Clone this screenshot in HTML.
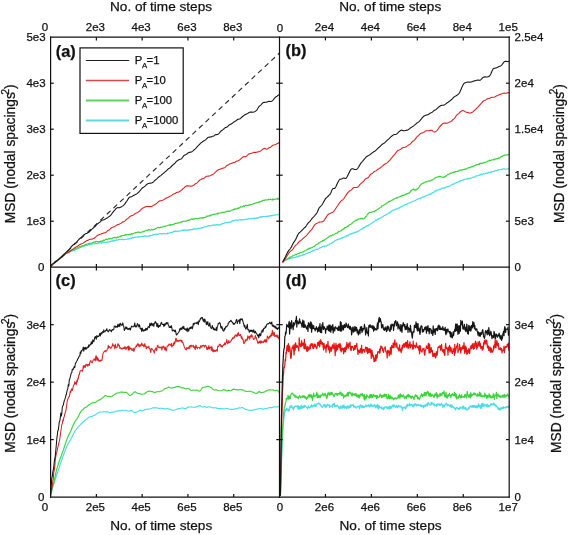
<!DOCTYPE html>
<html><head><meta charset="utf-8"><style>
html,body{margin:0;padding:0;background:#fff;}
#w{position:relative;width:568px;height:535px;overflow:hidden;}
svg{display:block;position:absolute;left:0;top:0;}
#t{will-change:transform;}
text{font-family:"Liberation Sans",sans-serif;fill:#111;stroke:#111;stroke-width:0.25px;}
</style></head><body><div id="w">
<svg width="568" height="535" viewBox="0 0 568 535">
<rect width="568" height="535" fill="#fff"/>
<defs>
<clipPath id="cp"><rect x="50.6" y="37.2" width="458.59999999999997" height="459.90000000000003"/></clipPath>
</defs>
<g clip-path="url(#cp)">
<path d="M51.00,265.78 L51.50,265.16 L52.00,264.81 L52.50,264.21 L53.00,264.04 L53.50,263.93 L54.00,263.07 L54.50,262.63 L55.00,262.49 L55.50,262.05 L56.00,261.57 L56.50,260.89 L57.00,260.71 L57.50,260.44 L58.00,259.49 L58.50,259.26 L59.00,258.49 L59.50,258.17 L60.00,257.63 L60.50,257.62 L61.00,256.99 L61.50,256.99 L62.00,256.58 L62.50,256.11 L63.00,255.16 L63.50,255.31 L64.00,255.09 L64.50,254.79 L65.00,254.03 L65.50,253.96 L66.00,253.52 L66.50,253.27 L67.00,253.44 L67.50,252.67 L68.00,252.60 L68.50,252.55 L69.00,251.93 L69.50,251.80 L70.00,251.65 L70.50,251.44 L71.00,250.93 L71.50,251.09 L72.00,251.23 L72.50,250.33 L73.00,250.77 L73.50,250.40 L74.00,250.02 L74.50,250.47 L75.00,249.94 L75.50,249.22 L76.00,249.31 L76.50,249.23 L77.00,248.83 L77.50,248.85 L78.00,248.46 L78.50,248.46 L79.00,248.47 L79.50,247.76 L80.00,247.79 L80.50,247.43 L81.00,247.39 L81.50,246.85 L82.00,246.81 L82.50,246.70 L83.00,246.78 L83.50,246.65 L84.00,245.85 L84.50,245.80 L85.00,246.00 L85.50,245.18 L86.00,245.42 L86.50,245.35 L87.00,245.55 L87.50,245.28 L88.00,244.88 L88.50,244.74 L89.00,244.64 L89.50,244.95 L90.00,244.36 L90.50,244.28 L91.00,244.34 L91.50,244.13 L92.00,244.02 L92.50,243.71 L93.00,243.92 L93.50,243.75 L94.00,244.09 L94.50,243.89 L95.00,243.67 L95.50,243.79 L96.00,243.49 L96.50,243.80 L97.00,243.48 L97.50,243.58 L98.00,243.08 L98.50,243.41 L99.00,242.84 L99.50,242.66 L100.00,242.99 L100.50,242.73 L101.00,242.89 L101.50,243.28 L102.00,242.40 L102.50,242.37 L103.00,242.53 L103.50,242.56 L104.00,242.37 L104.50,242.35 L105.00,242.58 L105.50,242.54 L106.00,242.13 L106.50,242.32 L107.00,242.29 L107.50,241.91 L108.00,242.13 L108.50,241.74 L109.00,242.08 L109.50,241.78 L110.00,241.67 L110.50,241.41 L111.00,241.44 L111.50,240.88 L112.00,241.00 L112.50,241.28 L113.00,240.55 L113.50,241.17 L114.00,240.37 L114.50,240.84 L115.00,240.29 L115.50,240.54 L116.00,240.23 L116.50,239.67 L117.00,240.25 L117.50,240.19 L118.00,239.71 L118.50,239.59 L119.00,239.57 L119.50,239.30 L120.00,239.79 L120.50,239.37 L121.00,239.47 L121.50,239.28 L122.00,239.32 L122.50,239.16 L123.00,239.78 L123.50,239.43 L124.00,239.70 L124.50,239.46 L125.00,239.26 L125.50,239.33 L126.00,239.22 L126.50,239.30 L127.00,239.13 L127.50,239.06 L128.00,238.71 L128.50,238.76 L129.00,239.26 L129.50,238.57 L130.00,238.35 L130.50,238.59 L131.00,238.76 L131.50,237.91 L132.00,238.09 L132.50,237.86 L133.00,237.44 L133.50,237.90 L134.00,237.57 L134.50,237.48 L135.00,237.16 L135.50,237.35 L136.00,237.01 L136.50,237.03 L137.00,236.74 L137.50,236.67 L138.00,237.26 L138.50,236.77 L139.00,236.91 L139.50,236.77 L140.00,236.62 L140.50,236.53 L141.00,236.72 L141.50,236.40 L142.00,236.37 L142.50,236.31 L143.00,236.52 L143.50,236.34 L144.00,236.23 L144.50,235.97 L145.00,235.75 L145.50,236.32 L146.00,236.35 L146.50,236.09 L147.00,236.25 L147.50,236.31 L148.00,236.29 L148.50,236.25 L149.00,235.81 L149.50,236.17 L150.00,235.34 L150.50,235.69 L151.00,235.44 L151.50,235.37 L152.00,235.47 L152.50,235.24 L153.00,234.48 L153.50,234.28 L154.00,234.85 L154.50,234.34 L155.00,234.57 L155.50,234.76 L156.00,234.09 L156.50,233.92 L157.00,234.46 L157.50,234.36 L158.00,234.21 L158.50,234.19 L159.00,233.88 L159.50,233.66 L160.00,233.93 L160.50,233.67 L161.00,233.46 L161.50,233.98 L162.00,233.83 L162.50,233.94 L163.00,233.60 L163.50,233.67 L164.00,233.59 L164.50,233.59 L165.00,233.83 L165.50,233.55 L166.00,233.77 L166.50,233.72 L167.00,234.06 L167.50,233.12 L168.00,233.58 L168.50,233.24 L169.00,233.17 L169.50,232.69 L170.00,232.79 L170.50,232.96 L171.00,232.61 L171.50,232.50 L172.00,232.26 L172.50,232.48 L173.00,232.03 L173.50,231.35 L174.00,231.60 L174.50,231.19 L175.00,230.80 L175.50,231.43 L176.00,231.83 L176.50,231.47 L177.00,231.12 L177.50,231.14 L178.00,231.61 L178.50,231.30 L179.00,231.17 L179.50,231.02 L180.00,230.92 L180.50,230.98 L181.00,230.79 L181.50,230.60 L182.00,230.18 L182.50,230.49 L183.00,230.11 L183.50,230.49 L184.00,229.87 L184.50,230.14 L185.00,230.16 L185.50,229.83 L186.00,230.58 L186.50,230.52 L187.00,230.06 L187.50,230.38 L188.00,230.29 L188.50,229.52 L189.00,230.19 L189.50,230.04 L190.00,229.97 L190.50,229.55 L191.00,229.64 L191.50,229.54 L192.00,229.75 L192.50,229.41 L193.00,229.23 L193.50,229.52 L194.00,228.94 L194.50,228.93 L195.00,228.51 L195.50,229.30 L196.00,229.10 L196.50,229.02 L197.00,228.89 L197.50,228.67 L198.00,228.63 L198.50,228.42 L199.00,228.34 L199.50,228.27 L200.00,228.53 L200.50,228.18 L201.00,227.90 L201.50,227.63 L202.00,227.51 L202.50,227.95 L203.00,227.55 L203.50,227.34 L204.00,227.13 L204.50,226.81 L205.00,226.96 L205.50,227.05 L206.00,226.58 L206.50,226.45 L207.00,226.30 L207.50,226.24 L208.00,225.68 L208.50,225.88 L209.00,225.62 L209.50,225.96 L210.00,225.49 L210.50,225.75 L211.00,225.92 L211.50,225.36 L212.00,225.20 L212.50,225.30 L213.00,225.17 L213.50,224.84 L214.00,225.14 L214.50,225.48 L215.00,224.89 L215.50,224.90 L216.00,224.68 L216.50,225.05 L217.00,224.66 L217.50,224.69 L218.00,225.26 L218.50,224.67 L219.00,225.07 L219.50,225.09 L220.00,224.67 L220.50,224.59 L221.00,224.77 L221.50,224.06 L222.00,223.79 L222.50,223.42 L223.00,223.60 L223.50,223.78 L224.00,223.49 L224.50,222.85 L225.00,222.72 L225.50,222.69 L226.00,222.80 L226.50,222.58 L227.00,222.61 L227.50,222.57 L228.00,222.36 L228.50,222.35 L229.00,222.33 L229.50,222.17 L230.00,222.19 L230.50,222.39 L231.00,221.91 L231.50,221.59 L232.00,220.97 L232.50,221.30 L233.00,220.55 L233.50,220.52 L234.00,220.91 L234.50,220.72 L235.00,220.40 L235.50,219.92 L236.00,220.19 L236.50,220.04 L237.00,220.34 L237.50,220.71 L238.00,220.16 L238.50,219.88 L239.00,219.76 L239.50,219.99 L240.00,219.93 L240.50,219.64 L241.00,219.90 L241.50,219.53 L242.00,220.05 L242.50,220.03 L243.00,220.02 L243.50,219.59 L244.00,219.81 L244.50,219.62 L245.00,219.54 L245.50,219.50 L246.00,219.19 L246.50,219.08 L247.00,219.54 L247.50,219.18 L248.00,219.18 L248.50,219.26 L249.00,218.48 L249.50,218.60 L250.00,218.77 L250.50,218.77 L251.00,218.52 L251.50,218.85 L252.00,218.63 L252.50,218.27 L253.00,218.31 L253.50,218.71 L254.00,218.59 L254.50,217.95 L255.00,218.69 L255.50,218.41 L256.00,218.49 L256.50,217.94 L257.00,217.85 L257.50,217.51 L258.00,218.31 L258.50,217.51 L259.00,217.82 L259.50,217.15 L260.00,217.25 L260.50,216.68 L261.00,216.90 L261.50,217.15 L262.00,216.51 L262.50,217.02 L263.00,216.79 L263.50,216.41 L264.00,216.51 L264.50,216.51 L265.00,216.60 L265.50,216.48 L266.00,216.39 L266.50,216.49 L267.00,216.25 L267.50,216.13 L268.00,216.36 L268.50,216.48 L269.00,215.77 L269.50,216.05 L270.00,215.78 L270.50,215.59 L271.00,215.94 L271.50,215.47 L272.00,215.89 L272.50,215.22 L273.00,215.42 L273.50,215.18 L274.00,214.96 L274.50,215.22 L275.00,214.95 L275.50,215.08 L276.00,214.86 L276.50,214.55 L277.00,214.76 L277.50,214.74 L278.00,214.90 L278.50,214.39 L279.00,214.55 L279.50,214.06" fill="none" stroke="#48dde8" stroke-width="1.15" stroke-linejoin="round" />
<path d="M51.00,266.42 L51.50,265.60 L52.00,265.40 L52.50,265.04 L53.00,264.25 L53.50,264.04 L54.00,263.45 L54.50,262.83 L55.00,262.34 L55.50,261.98 L56.00,261.48 L56.50,260.86 L57.00,260.47 L57.50,260.44 L58.00,259.79 L58.50,259.58 L59.00,259.28 L59.50,258.76 L60.00,258.83 L60.50,257.71 L61.00,257.77 L61.50,257.12 L62.00,257.27 L62.50,256.83 L63.00,255.50 L63.50,255.32 L64.00,255.29 L64.50,254.87 L65.00,254.39 L65.50,253.74 L66.00,253.45 L66.50,253.10 L67.00,252.53 L67.50,252.47 L68.00,251.35 L68.50,251.80 L69.00,251.14 L69.50,251.43 L70.00,250.92 L70.50,250.58 L71.00,250.71 L71.50,250.17 L72.00,249.99 L72.50,249.62 L73.00,249.78 L73.50,249.68 L74.00,249.56 L74.50,249.04 L75.00,249.09 L75.50,248.59 L76.00,248.32 L76.50,248.24 L77.00,248.13 L77.50,247.57 L78.00,247.39 L78.50,247.23 L79.00,247.10 L79.50,246.69 L80.00,247.01 L80.50,246.48 L81.00,246.51 L81.50,246.03 L82.00,246.13 L82.50,245.93 L83.00,245.51 L83.50,245.92 L84.00,245.30 L84.50,245.46 L85.00,245.08 L85.50,244.50 L86.00,244.41 L86.50,244.46 L87.00,244.25 L87.50,244.12 L88.00,243.96 L88.50,243.49 L89.00,243.78 L89.50,243.21 L90.00,243.76 L90.50,243.39 L91.00,243.29 L91.50,243.29 L92.00,243.26 L92.50,242.66 L93.00,242.38 L93.50,242.34 L94.00,241.89 L94.50,241.98 L95.00,242.45 L95.50,241.66 L96.00,241.97 L96.50,241.38 L97.00,241.74 L97.50,241.55 L98.00,241.60 L98.50,241.72 L99.00,241.99 L99.50,241.56 L100.00,241.47 L100.50,241.12 L101.00,241.41 L101.50,241.09 L102.00,241.24 L102.50,240.88 L103.00,241.15 L103.50,240.05 L104.00,240.28 L104.50,240.38 L105.00,239.87 L105.50,239.55 L106.00,239.50 L106.50,239.05 L107.00,239.29 L107.50,239.74 L108.00,239.31 L108.50,238.67 L109.00,238.66 L109.50,238.69 L110.00,238.98 L110.50,238.46 L111.00,238.40 L111.50,238.69 L112.00,238.58 L112.50,238.16 L113.00,237.87 L113.50,237.64 L114.00,237.76 L114.50,237.27 L115.00,237.92 L115.50,237.47 L116.00,237.64 L116.50,237.88 L117.00,237.60 L117.50,236.91 L118.00,237.33 L118.50,237.28 L119.00,236.68 L119.50,236.52 L120.00,236.58 L120.50,236.07 L121.00,236.68 L121.50,235.53 L122.00,235.71 L122.50,235.74 L123.00,235.56 L123.50,235.51 L124.00,235.39 L124.50,235.16 L125.00,235.39 L125.50,234.47 L126.00,234.93 L126.50,234.69 L127.00,234.85 L127.50,234.80 L128.00,234.44 L128.50,234.43 L129.00,234.68 L129.50,234.47 L130.00,234.10 L130.50,234.63 L131.00,234.58 L131.50,233.51 L132.00,233.81 L132.50,234.24 L133.00,233.66 L133.50,233.40 L134.00,233.16 L134.50,232.93 L135.00,232.88 L135.50,232.65 L136.00,232.85 L136.50,232.45 L137.00,232.33 L137.50,232.05 L138.00,232.27 L138.50,232.02 L139.00,232.18 L139.50,232.48 L140.00,232.30 L140.50,232.31 L141.00,232.25 L141.50,232.13 L142.00,231.98 L142.50,231.83 L143.00,231.96 L143.50,231.33 L144.00,231.75 L144.50,231.23 L145.00,230.85 L145.50,230.75 L146.00,230.54 L146.50,230.60 L147.00,230.26 L147.50,230.62 L148.00,230.05 L148.50,229.60 L149.00,229.91 L149.50,229.53 L150.00,229.95 L150.50,230.17 L151.00,229.99 L151.50,229.42 L152.00,229.46 L152.50,229.99 L153.00,229.49 L153.50,229.26 L154.00,229.36 L154.50,229.53 L155.00,229.05 L155.50,228.57 L156.00,228.43 L156.50,228.31 L157.00,227.84 L157.50,227.59 L158.00,227.76 L158.50,227.42 L159.00,227.56 L159.50,227.53 L160.00,228.01 L160.50,227.16 L161.00,227.27 L161.50,227.16 L162.00,227.20 L162.50,227.25 L163.00,226.73 L163.50,226.51 L164.00,226.17 L164.50,226.20 L165.00,226.41 L165.50,226.17 L166.00,225.77 L166.50,225.78 L167.00,225.74 L167.50,225.73 L168.00,225.33 L168.50,225.30 L169.00,224.81 L169.50,224.87 L170.00,225.49 L170.50,224.46 L171.00,224.84 L171.50,224.90 L172.00,224.68 L172.50,224.48 L173.00,224.56 L173.50,224.43 L174.00,224.24 L174.50,223.61 L175.00,223.85 L175.50,223.47 L176.00,223.35 L176.50,223.35 L177.00,223.27 L177.50,223.15 L178.00,222.66 L178.50,222.88 L179.00,222.81 L179.50,222.67 L180.00,222.62 L180.50,222.10 L181.00,221.98 L181.50,222.11 L182.00,221.47 L182.50,221.75 L183.00,221.47 L183.50,221.44 L184.00,221.00 L184.50,221.12 L185.00,221.22 L185.50,221.34 L186.00,221.23 L186.50,220.81 L187.00,220.61 L187.50,220.26 L188.00,220.40 L188.50,220.07 L189.00,220.12 L189.50,220.25 L190.00,219.68 L190.50,219.18 L191.00,219.22 L191.50,218.97 L192.00,218.94 L192.50,219.49 L193.00,219.13 L193.50,218.61 L194.00,219.08 L194.50,219.17 L195.00,218.68 L195.50,218.55 L196.00,218.57 L196.50,218.64 L197.00,218.65 L197.50,218.71 L198.00,218.64 L198.50,218.57 L199.00,218.55 L199.50,218.33 L200.00,217.74 L200.50,218.04 L201.00,218.13 L201.50,217.93 L202.00,218.21 L202.50,217.83 L203.00,217.59 L203.50,218.09 L204.00,217.74 L204.50,217.49 L205.00,217.50 L205.50,217.35 L206.00,216.97 L206.50,216.08 L207.00,216.35 L207.50,216.23 L208.00,215.92 L208.50,216.03 L209.00,216.13 L209.50,215.54 L210.00,215.23 L210.50,215.86 L211.00,215.10 L211.50,214.75 L212.00,214.98 L212.50,214.90 L213.00,214.47 L213.50,214.73 L214.00,214.28 L214.50,214.06 L215.00,214.20 L215.50,214.19 L216.00,213.72 L216.50,213.83 L217.00,213.59 L217.50,214.16 L218.00,213.14 L218.50,213.53 L219.00,213.07 L219.50,212.94 L220.00,213.06 L220.50,213.01 L221.00,213.02 L221.50,212.69 L222.00,212.35 L222.50,212.26 L223.00,212.43 L223.50,212.33 L224.00,212.41 L224.50,212.04 L225.00,212.10 L225.50,212.15 L226.00,211.74 L226.50,211.24 L227.00,211.25 L227.50,211.11 L228.00,211.76 L228.50,211.06 L229.00,211.45 L229.50,211.15 L230.00,211.27 L230.50,210.89 L231.00,210.44 L231.50,210.21 L232.00,210.10 L232.50,209.96 L233.00,209.59 L233.50,209.55 L234.00,209.81 L234.50,208.86 L235.00,209.23 L235.50,208.81 L236.00,208.96 L236.50,209.01 L237.00,208.64 L237.50,208.68 L238.00,207.95 L238.50,208.45 L239.00,207.84 L239.50,207.93 L240.00,207.60 L240.50,206.68 L241.00,206.93 L241.50,206.98 L242.00,207.10 L242.50,206.59 L243.00,206.40 L243.50,205.80 L244.00,206.37 L244.50,206.33 L245.00,205.73 L245.50,205.57 L246.00,205.12 L246.50,205.63 L247.00,205.99 L247.50,205.42 L248.00,205.47 L248.50,205.22 L249.00,204.75 L249.50,205.25 L250.00,204.50 L250.50,204.66 L251.00,204.66 L251.50,204.69 L252.00,204.44 L252.50,204.30 L253.00,203.88 L253.50,203.60 L254.00,203.79 L254.50,203.46 L255.00,203.17 L255.50,203.03 L256.00,203.06 L256.50,202.55 L257.00,202.50 L257.50,202.25 L258.00,202.50 L258.50,202.38 L259.00,202.57 L259.50,201.49 L260.00,201.50 L260.50,201.71 L261.00,201.23 L261.50,201.03 L262.00,201.39 L262.50,200.72 L263.00,200.39 L263.50,200.20 L264.00,200.48 L264.50,200.37 L265.00,199.83 L265.50,199.82 L266.00,200.10 L266.50,200.02 L267.00,199.64 L267.50,199.90 L268.00,199.82 L268.50,199.20 L269.00,199.54 L269.50,199.71 L270.00,199.45 L270.50,199.03 L271.00,199.47 L271.50,199.70 L272.00,199.87 L272.50,198.89 L273.00,200.03 L273.50,199.05 L274.00,199.53 L274.50,199.53 L275.00,199.41 L275.50,199.13 L276.00,198.75 L276.50,199.13 L277.00,198.72 L277.50,198.22 L278.00,199.49 L278.50,198.90 L279.00,199.10 L279.50,198.34" fill="none" stroke="#3cd23c" stroke-width="1.15" stroke-linejoin="round" />
<path d="M51.00,266.26 L51.50,265.80 L52.00,265.33 L52.50,264.81 L53.00,264.23 L53.50,263.60 L54.00,263.03 L54.50,262.46 L55.00,262.00 L55.50,261.56 L56.00,261.23 L56.50,260.93 L57.00,260.65 L57.50,260.40 L58.00,260.19 L58.50,259.93 L59.00,259.62 L59.50,259.20 L60.00,258.72 L60.50,258.17 L61.00,257.71 L61.50,257.30 L62.00,256.94 L62.50,256.64 L63.00,256.26 L63.50,255.84 L64.00,255.36 L64.50,254.88 L65.00,254.41 L65.50,253.94 L66.00,253.55 L66.50,253.19 L67.00,252.96 L67.50,252.77 L68.00,252.61 L68.50,252.42 L69.00,252.16 L69.50,251.81 L70.00,251.41 L70.50,250.97 L71.00,250.51 L71.50,250.06 L72.00,249.70 L72.50,249.37 L73.00,249.06 L73.50,248.71 L74.00,248.36 L74.50,247.96 L75.00,247.59 L75.50,247.28 L76.00,247.04 L76.50,246.80 L77.00,246.58 L77.50,246.26 L78.00,245.92 L78.50,245.51 L79.00,245.14 L79.50,244.82 L80.00,244.57 L80.50,244.32 L81.00,244.09 L81.50,243.86 L82.00,243.65 L82.50,243.45 L83.00,243.18 L83.50,242.89 L84.00,242.52 L84.50,242.15 L85.00,241.79 L85.50,241.45 L86.00,241.10 L86.50,240.82 L87.00,240.58 L87.50,240.38 L88.00,240.14 L88.50,239.89 L89.00,239.61 L89.50,239.39 L90.00,239.25 L90.50,239.20 L91.00,239.18 L91.50,239.16 L92.00,239.10 L92.50,238.98 L93.00,238.82 L93.50,238.61 L94.00,238.40 L94.50,238.03 L95.00,237.57 L95.50,237.09 L96.00,236.57 L96.50,236.09 L97.00,235.72 L97.50,235.37 L98.00,235.10 L98.50,234.89 L99.00,234.67 L99.50,234.50 L100.00,234.34 L100.50,234.17 L101.00,233.99 L101.50,233.77 L102.00,233.58 L102.50,233.43 L103.00,233.29 L103.50,233.11 L104.00,232.94 L104.50,232.79 L105.00,232.70 L105.50,232.57 L106.00,232.34 L106.50,231.93 L107.00,231.40 L107.50,230.91 L108.00,230.54 L108.50,230.27 L109.00,230.02 L109.50,229.68 L110.00,229.19 L110.50,228.64 L111.00,228.14 L111.50,227.80 L112.00,227.51 L112.50,227.31 L113.00,227.17 L113.50,226.98 L114.00,226.78 L114.50,226.54 L115.00,226.24 L115.50,225.91 L116.00,225.54 L116.50,225.23 L117.00,225.01 L117.50,224.78 L118.00,224.58 L118.50,224.40 L119.00,224.24 L119.50,224.02 L120.00,223.80 L120.50,223.55 L121.00,223.28 L121.50,222.91 L122.00,222.49 L122.50,222.11 L123.00,221.87 L123.50,221.71 L124.00,221.53 L124.50,221.20 L125.00,220.81 L125.50,220.31 L126.00,219.82 L126.50,219.38 L127.00,219.01 L127.50,218.67 L128.00,218.31 L128.50,217.90 L129.00,217.38 L129.50,216.90 L130.00,216.48 L130.50,216.12 L131.00,215.88 L131.50,215.76 L132.00,215.66 L132.50,215.53 L133.00,215.29 L133.50,214.89 L134.00,214.47 L134.50,214.06 L135.00,213.67 L135.50,213.38 L136.00,213.12 L136.50,212.94 L137.00,212.78 L137.50,212.56 L138.00,212.29 L138.50,211.92 L139.00,211.55 L139.50,211.11 L140.00,210.64 L140.50,210.15 L141.00,209.59 L141.50,209.03 L142.00,208.54 L142.50,208.18 L143.00,207.97 L143.50,207.77 L144.00,207.59 L144.50,207.32 L145.00,207.06 L145.50,206.80 L146.00,206.63 L146.50,206.50 L147.00,206.48 L147.50,206.48 L148.00,206.49 L148.50,206.53 L149.00,206.50 L149.50,206.51 L150.00,206.57 L150.50,206.60 L151.00,206.55 L151.50,206.45 L152.00,206.24 L152.50,205.93 L153.00,205.63 L153.50,205.36 L154.00,205.04 L154.50,204.72 L155.00,204.40 L155.50,204.15 L156.00,203.84 L156.50,203.47 L157.00,203.09 L157.50,202.62 L158.00,202.17 L158.50,201.71 L159.00,201.32 L159.50,201.03 L160.00,200.86 L160.50,200.78 L161.00,200.70 L161.50,200.57 L162.00,200.42 L162.50,200.22 L163.00,200.00 L163.50,199.75 L164.00,199.46 L164.50,199.09 L165.00,198.78 L165.50,198.44 L166.00,198.19 L166.50,197.98 L167.00,197.81 L167.50,197.63 L168.00,197.39 L168.50,197.14 L169.00,196.83 L169.50,196.47 L170.00,196.24 L170.50,196.01 L171.00,195.81 L171.50,195.49 L172.00,195.14 L172.50,194.75 L173.00,194.35 L173.50,194.04 L174.00,193.88 L174.50,193.68 L175.00,193.50 L175.50,193.18 L176.00,192.82 L176.50,192.50 L177.00,192.33 L177.50,192.26 L178.00,192.24 L178.50,192.14 L179.00,191.90 L179.50,191.56 L180.00,191.22 L180.50,190.89 L181.00,190.50 L181.50,190.12 L182.00,189.67 L182.50,189.22 L183.00,188.77 L183.50,188.36 L184.00,187.89 L184.50,187.39 L185.00,186.88 L185.50,186.47 L186.00,186.21 L186.50,186.00 L187.00,185.86 L187.50,185.82 L188.00,185.84 L188.50,185.88 L189.00,185.99 L189.50,186.06 L190.00,186.18 L190.50,186.17 L191.00,186.16 L191.50,186.08 L192.00,185.96 L192.50,185.76 L193.00,185.53 L193.50,185.28 L194.00,184.95 L194.50,184.55 L195.00,184.17 L195.50,183.82 L196.00,183.50 L196.50,183.22 L197.00,182.89 L197.50,182.47 L198.00,181.94 L198.50,181.35 L199.00,180.77 L199.50,180.34 L200.00,179.94 L200.50,179.67 L201.00,179.44 L201.50,179.12 L202.00,178.88 L202.50,178.72 L203.00,178.63 L203.50,178.53 L204.00,178.32 L204.50,177.95 L205.00,177.46 L205.50,176.96 L206.00,176.57 L206.50,176.32 L207.00,176.22 L207.50,176.21 L208.00,176.17 L208.50,176.14 L209.00,176.04 L209.50,175.91 L210.00,175.74 L210.50,175.53 L211.00,175.29 L211.50,175.01 L212.00,174.70 L212.50,174.47 L213.00,174.23 L213.50,173.93 L214.00,173.59 L214.50,173.16 L215.00,172.66 L215.50,172.14 L216.00,171.55 L216.50,171.06 L217.00,170.57 L217.50,170.31 L218.00,170.07 L218.50,169.82 L219.00,169.58 L219.50,169.38 L220.00,169.16 L220.50,169.02 L221.00,168.90 L221.50,168.78 L222.00,168.57 L222.50,168.36 L223.00,168.14 L223.50,168.00 L224.00,167.87 L224.50,167.67 L225.00,167.33 L225.50,166.82 L226.00,166.34 L226.50,165.83 L227.00,165.50 L227.50,165.20 L228.00,164.95 L228.50,164.67 L229.00,164.34 L229.50,164.08 L230.00,163.88 L230.50,163.69 L231.00,163.57 L231.50,163.38 L232.00,163.16 L232.50,162.94 L233.00,162.77 L233.50,162.63 L234.00,162.56 L234.50,162.41 L235.00,162.12 L235.50,161.78 L236.00,161.46 L236.50,161.22 L237.00,161.08 L237.50,160.94 L238.00,160.78 L238.50,160.49 L239.00,160.22 L239.50,159.88 L240.00,159.50 L240.50,159.09 L241.00,158.70 L241.50,158.28 L242.00,157.85 L242.50,157.41 L243.00,157.06 L243.50,156.75 L244.00,156.61 L244.50,156.63 L245.00,156.69 L245.50,156.66 L246.00,156.49 L246.50,156.09 L247.00,155.59 L247.50,155.11 L248.00,154.67 L248.50,154.31 L249.00,154.01 L249.50,153.75 L250.00,153.56 L250.50,153.43 L251.00,153.34 L251.50,153.22 L252.00,153.10 L252.50,152.93 L253.00,152.71 L253.50,152.50 L254.00,152.39 L254.50,152.34 L255.00,152.38 L255.50,152.43 L256.00,152.41 L256.50,152.27 L257.00,152.12 L257.50,151.96 L258.00,151.88 L258.50,151.82 L259.00,151.71 L259.50,151.56 L260.00,151.30 L260.50,150.99 L261.00,150.65 L261.50,150.26 L262.00,149.88 L262.50,149.47 L263.00,149.09 L263.50,148.74 L264.00,148.48 L264.50,148.33 L265.00,148.45 L265.50,148.71 L266.00,149.05 L266.50,149.21 L267.00,149.17 L267.50,148.86 L268.00,148.47 L268.50,148.08 L269.00,147.80 L269.50,147.62 L270.00,147.49 L270.50,147.29 L271.00,146.95 L271.50,146.46 L272.00,145.99 L272.50,145.56 L273.00,145.20 L273.50,145.03 L274.00,144.94 L274.50,144.83 L275.00,144.67 L275.50,144.46 L276.00,144.24 L276.50,143.99 L277.00,143.76 L277.50,143.52 L278.00,143.29 L278.50,143.02 L279.00,142.75 L279.50,142.56" fill="none" stroke="#e02020" stroke-width="1.1" stroke-linejoin="round" />
<path d="M51.00,265.49 L51.50,264.88 L52.00,264.40 L52.50,263.99 L53.00,263.65 L53.50,263.27 L54.00,262.83 L54.50,262.34 L55.00,261.89 L55.50,261.52 L56.00,261.26 L56.50,261.04 L57.00,260.79 L57.50,260.45 L58.00,259.97 L58.50,259.41 L59.00,258.83 L59.50,258.31 L60.00,257.99 L60.50,257.71 L61.00,257.41 L61.50,257.01 L62.00,256.52 L62.50,255.94 L63.00,255.36 L63.50,254.85 L64.00,254.38 L64.50,253.86 L65.00,253.38 L65.50,252.87 L66.00,252.38 L66.50,251.92 L67.00,251.50 L67.50,251.10 L68.00,250.71 L68.50,250.30 L69.00,249.82 L69.50,249.29 L70.00,248.58 L70.50,247.88 L71.00,247.14 L71.50,246.52 L72.00,245.96 L72.50,245.48 L73.00,245.03 L73.50,244.57 L74.00,244.08 L74.50,243.66 L75.00,243.27 L75.50,242.98 L76.00,242.62 L76.50,242.20 L77.00,241.70 L77.50,241.07 L78.00,240.44 L78.50,239.84 L79.00,239.26 L79.50,238.76 L80.00,238.30 L80.50,237.83 L81.00,237.44 L81.50,237.02 L82.00,236.53 L82.50,236.11 L83.00,235.64 L83.50,235.22 L84.00,234.81 L84.50,234.43 L85.00,234.11 L85.50,233.78 L86.00,233.56 L86.50,233.40 L87.00,233.19 L87.50,233.03 L88.00,232.81 L88.50,232.50 L89.00,232.11 L89.50,231.59 L90.00,231.05 L90.50,230.53 L91.00,230.03 L91.50,229.57 L92.00,229.15 L92.50,228.70 L93.00,228.25 L93.50,227.80 L94.00,227.34 L94.50,226.96 L95.00,226.49 L95.50,225.99 L96.00,225.41 L96.50,224.88 L97.00,224.39 L97.50,223.93 L98.00,223.54 L98.50,223.17 L99.00,222.79 L99.50,222.42 L100.00,222.00 L100.50,221.54 L101.00,221.04 L101.50,220.55 L102.00,220.19 L102.50,219.99 L103.00,219.94 L103.50,219.91 L104.00,219.80 L104.50,219.53 L105.00,219.16 L105.50,218.86 L106.00,218.54 L106.50,218.27 L107.00,218.00 L107.50,217.69 L108.00,217.36 L108.50,217.01 L109.00,216.66 L109.50,216.33 L110.00,215.90 L110.50,215.38 L111.00,214.82 L111.50,214.18 L112.00,213.49 L112.50,212.80 L113.00,212.14 L113.50,211.55 L114.00,210.97 L114.50,210.37 L115.00,209.83 L115.50,209.19 L116.00,208.65 L116.50,208.17 L117.00,207.84 L117.50,207.68 L118.00,207.64 L118.50,207.70 L119.00,207.71 L119.50,207.61 L120.00,207.48 L120.50,207.22 L121.00,206.94 L121.50,206.68 L122.00,206.38 L122.50,206.11 L123.00,205.80 L123.50,205.42 L124.00,204.91 L124.50,204.34 L125.00,203.64 L125.50,202.90 L126.00,202.18 L126.50,201.53 L127.00,200.83 L127.50,200.02 L128.00,199.21 L128.50,198.40 L129.00,197.71 L129.50,197.24 L130.00,197.03 L130.50,196.94 L131.00,196.84 L131.50,196.74 L132.00,196.52 L132.50,196.17 L133.00,195.80 L133.50,195.47 L134.00,195.17 L134.50,194.93 L135.00,194.70 L135.50,194.51 L136.00,194.22 L136.50,193.93 L137.00,193.60 L137.50,193.21 L138.00,192.76 L138.50,192.26 L139.00,191.79 L139.50,191.29 L140.00,190.73 L140.50,190.11 L141.00,189.47 L141.50,188.82 L142.00,188.26 L142.50,187.80 L143.00,187.46 L143.50,187.16 L144.00,186.87 L144.50,186.51 L145.00,186.08 L145.50,185.60 L146.00,185.08 L146.50,184.61 L147.00,184.20 L147.50,183.89 L148.00,183.70 L148.50,183.58 L149.00,183.45 L149.50,183.33 L150.00,183.23 L150.50,183.14 L151.00,183.03 L151.50,182.94 L152.00,182.84 L152.50,182.58 L153.00,182.23 L153.50,181.80 L154.00,181.30 L154.50,180.75 L155.00,180.28 L155.50,179.88 L156.00,179.49 L156.50,179.08 L157.00,178.65 L157.50,178.14 L158.00,177.67 L158.50,177.19 L159.00,176.77 L159.50,176.40 L160.00,176.06 L160.50,175.73 L161.00,175.35 L161.50,174.94 L162.00,174.50 L162.50,174.07 L163.00,173.67 L163.50,173.25 L164.00,172.80 L164.50,172.37 L165.00,171.90 L165.50,171.48 L166.00,171.04 L166.50,170.55 L167.00,170.05 L167.50,169.58 L168.00,169.09 L168.50,168.71 L169.00,168.39 L169.50,168.15 L170.00,167.81 L170.50,167.31 L171.00,166.76 L171.50,166.26 L172.00,165.73 L172.50,165.27 L173.00,164.80 L173.50,164.39 L174.00,163.96 L174.50,163.52 L175.00,163.02 L175.50,162.49 L176.00,161.96 L176.50,161.46 L177.00,161.02 L177.50,160.59 L178.00,160.23 L178.50,159.93 L179.00,159.70 L179.50,159.49 L180.00,159.34 L180.50,159.17 L181.00,158.97 L181.50,158.65 L182.00,158.15 L182.50,157.50 L183.00,156.75 L183.50,156.03 L184.00,155.47 L184.50,155.14 L185.00,154.96 L185.50,154.83 L186.00,154.57 L186.50,154.24 L187.00,153.78 L187.50,153.34 L188.00,152.98 L188.50,152.71 L189.00,152.50 L189.50,152.35 L190.00,152.21 L190.50,152.10 L191.00,152.00 L191.50,151.88 L192.00,151.65 L192.50,151.35 L193.00,150.93 L193.50,150.41 L194.00,149.91 L194.50,149.49 L195.00,149.12 L195.50,148.70 L196.00,148.19 L196.50,147.58 L197.00,147.01 L197.50,146.45 L198.00,145.96 L198.50,145.47 L199.00,144.94 L199.50,144.38 L200.00,143.81 L200.50,143.25 L201.00,142.86 L201.50,142.53 L202.00,142.16 L202.50,141.75 L203.00,141.33 L203.50,140.99 L204.00,140.67 L204.50,140.46 L205.00,140.19 L205.50,139.86 L206.00,139.45 L206.50,138.95 L207.00,138.43 L207.50,137.94 L208.00,137.55 L208.50,137.33 L209.00,137.24 L209.50,137.16 L210.00,137.10 L210.50,137.03 L211.00,136.89 L211.50,136.69 L212.00,136.49 L212.50,136.30 L213.00,136.16 L213.50,135.97 L214.00,135.70 L214.50,135.38 L215.00,135.04 L215.50,134.76 L216.00,134.60 L216.50,134.58 L217.00,134.55 L217.50,134.46 L218.00,134.25 L218.50,133.86 L219.00,133.41 L219.50,132.83 L220.00,132.21 L220.50,131.60 L221.00,131.04 L221.50,130.61 L222.00,130.27 L222.50,129.98 L223.00,129.60 L223.50,129.16 L224.00,128.72 L224.50,128.23 L225.00,127.87 L225.50,127.59 L226.00,127.39 L226.50,127.25 L227.00,127.06 L227.50,126.69 L228.00,126.24 L228.50,125.71 L229.00,125.22 L229.50,124.83 L230.00,124.53 L230.50,124.31 L231.00,124.12 L231.50,123.84 L232.00,123.47 L232.50,123.06 L233.00,122.60 L233.50,122.22 L234.00,121.90 L234.50,121.61 L235.00,121.37 L235.50,121.11 L236.00,120.80 L236.50,120.37 L237.00,119.95 L237.50,119.55 L238.00,119.28 L238.50,119.18 L239.00,119.08 L239.50,118.97 L240.00,118.78 L240.50,118.45 L241.00,117.99 L241.50,117.45 L242.00,116.97 L242.50,116.53 L243.00,116.11 L243.50,115.77 L244.00,115.39 L244.50,115.05 L245.00,114.72 L245.50,114.45 L246.00,114.19 L246.50,113.93 L247.00,113.74 L247.50,113.48 L248.00,113.19 L248.50,112.85 L249.00,112.57 L249.50,112.33 L250.00,112.20 L250.50,112.16 L251.00,112.12 L251.50,112.11 L252.00,112.16 L252.50,112.22 L253.00,112.18 L253.50,112.08 L254.00,111.92 L254.50,111.69 L255.00,111.43 L255.50,111.14 L256.00,110.82 L256.50,110.38 L257.00,109.78 L257.50,108.97 L258.00,108.07 L258.50,107.21 L259.00,106.53 L259.50,105.95 L260.00,105.61 L260.50,105.23 L261.00,104.80 L261.50,104.29 L262.00,103.71 L262.50,103.19 L263.00,102.76 L263.50,102.51 L264.00,102.41 L264.50,102.36 L265.00,102.32 L265.50,102.30 L266.00,102.24 L266.50,102.15 L267.00,102.03 L267.50,101.83 L268.00,101.64 L268.50,101.45 L269.00,101.34 L269.50,101.34 L270.00,101.44 L270.50,101.52 L271.00,101.50 L271.50,101.29 L272.00,101.00 L272.50,100.59 L273.00,100.14 L273.50,99.59 L274.00,98.93 L274.50,98.25 L275.00,97.63 L275.50,97.16 L276.00,96.82 L276.50,96.43 L277.00,96.08 L277.50,95.71 L278.00,95.33 L278.50,94.97 L279.00,94.61 L279.50,94.17" fill="none" stroke="#151515" stroke-width="1.1" stroke-linejoin="round" />
<line x1="50.6" y1="266.8" x2="279.5" y2="53.0" stroke="#222" stroke-width="1.1" stroke-dasharray="5,4" stroke-dashoffset="4"/>
<path d="M282.60,261.64 L283.10,261.38 L283.60,261.22 L284.10,260.83 L284.60,261.10 L285.10,260.63 L285.60,259.73 L286.10,260.05 L286.60,259.99 L287.10,260.00 L287.60,259.46 L288.10,259.25 L288.60,258.93 L289.10,259.06 L289.60,258.60 L290.10,258.39 L290.60,258.20 L291.10,258.38 L291.60,257.97 L292.10,257.57 L292.60,258.01 L293.10,257.55 L293.60,257.70 L294.10,257.57 L294.60,257.67 L295.10,257.51 L295.60,256.99 L296.10,256.96 L296.60,256.54 L297.10,257.13 L297.60,256.69 L298.10,256.79 L298.60,256.21 L299.10,255.63 L299.60,256.39 L300.10,255.89 L300.60,255.76 L301.10,255.60 L301.60,255.60 L302.10,255.40 L302.60,254.71 L303.10,255.20 L303.60,254.62 L304.10,254.44 L304.60,254.78 L305.10,254.38 L305.60,253.87 L306.10,253.30 L306.60,253.61 L307.10,253.54 L307.60,253.20 L308.10,252.73 L308.60,252.63 L309.10,252.30 L309.60,252.45 L310.10,252.36 L310.60,252.17 L311.10,251.47 L311.60,251.45 L312.10,251.27 L312.60,250.77 L313.10,250.63 L313.60,250.98 L314.10,250.30 L314.60,250.27 L315.10,249.75 L315.60,249.68 L316.10,249.07 L316.60,249.31 L317.10,249.42 L317.60,249.44 L318.10,249.00 L318.60,248.66 L319.10,248.30 L319.60,247.92 L320.10,247.82 L320.60,247.81 L321.10,247.24 L321.60,247.46 L322.10,246.80 L322.60,246.42 L323.10,246.44 L323.60,246.13 L324.10,246.04 L324.60,246.52 L325.10,246.04 L325.60,246.01 L326.10,246.08 L326.60,245.92 L327.10,245.28 L327.60,245.51 L328.10,245.06 L328.60,244.74 L329.10,244.59 L329.60,243.88 L330.10,243.77 L330.60,243.64 L331.10,243.51 L331.60,242.95 L332.10,242.68 L332.60,242.62 L333.10,242.38 L333.60,241.87 L334.10,241.65 L334.60,240.91 L335.10,240.65 L335.60,240.51 L336.10,240.10 L336.60,239.80 L337.10,240.10 L337.60,239.42 L338.10,239.02 L338.60,239.20 L339.10,239.35 L339.60,238.73 L340.10,238.85 L340.60,238.27 L341.10,238.09 L341.60,237.88 L342.10,237.85 L342.60,238.18 L343.10,237.25 L343.60,237.76 L344.10,236.92 L344.60,236.90 L345.10,236.98 L345.60,236.71 L346.10,236.40 L346.60,235.70 L347.10,235.96 L347.60,235.37 L348.10,236.01 L348.60,235.04 L349.10,234.86 L349.60,234.26 L350.10,234.17 L350.60,233.72 L351.10,234.07 L351.60,233.57 L352.10,233.59 L352.60,233.13 L353.10,233.05 L353.60,233.34 L354.10,232.66 L354.60,232.31 L355.10,232.69 L355.60,232.12 L356.10,232.09 L356.60,232.20 L357.10,231.53 L357.60,231.69 L358.10,231.03 L358.60,231.29 L359.10,230.97 L359.60,230.24 L360.10,230.01 L360.60,229.57 L361.10,229.52 L361.60,229.47 L362.10,228.55 L362.60,228.86 L363.10,228.01 L363.60,227.84 L364.10,227.32 L364.60,228.00 L365.10,227.21 L365.60,226.95 L366.10,226.43 L366.60,226.56 L367.10,225.47 L367.60,225.70 L368.10,225.96 L368.60,225.03 L369.10,224.84 L369.60,224.70 L370.10,224.00 L370.60,223.89 L371.10,223.80 L371.60,223.27 L372.10,222.96 L372.60,222.41 L373.10,222.23 L373.60,221.82 L374.10,221.86 L374.60,221.34 L375.10,220.80 L375.60,219.96 L376.10,220.47 L376.60,220.21 L377.10,219.52 L377.60,218.98 L378.10,218.93 L378.60,219.18 L379.10,218.38 L379.60,218.27 L380.10,218.18 L380.60,218.16 L381.10,217.59 L381.60,217.28 L382.10,216.88 L382.60,217.13 L383.10,216.71 L383.60,216.11 L384.10,215.49 L384.60,215.33 L385.10,215.37 L385.60,214.75 L386.10,214.85 L386.60,214.41 L387.10,214.14 L387.60,213.95 L388.10,213.62 L388.60,213.00 L389.10,212.83 L389.60,213.16 L390.10,211.98 L390.60,211.83 L391.10,211.88 L391.60,211.25 L392.10,210.75 L392.60,210.29 L393.10,210.46 L393.60,210.33 L394.10,210.18 L394.60,209.65 L395.10,209.69 L395.60,208.99 L396.10,209.12 L396.60,208.76 L397.10,208.81 L397.60,208.78 L398.10,208.67 L398.60,207.93 L399.10,208.25 L399.60,207.58 L400.10,207.18 L400.60,207.13 L401.10,206.55 L401.60,206.64 L402.10,206.43 L402.60,206.06 L403.10,206.00 L403.60,205.56 L404.10,205.42 L404.60,204.86 L405.10,205.01 L405.60,204.59 L406.10,204.48 L406.60,204.34 L407.10,204.18 L407.60,203.47 L408.10,203.22 L408.60,203.27 L409.10,203.17 L409.60,202.86 L410.10,202.75 L410.60,202.62 L411.10,202.21 L411.60,201.89 L412.10,201.45 L412.60,201.28 L413.10,201.22 L413.60,201.24 L414.10,201.02 L414.60,200.75 L415.10,200.49 L415.60,200.42 L416.10,200.06 L416.60,199.82 L417.10,199.59 L417.60,199.16 L418.10,198.83 L418.60,199.00 L419.10,198.79 L419.60,198.43 L420.10,198.21 L420.60,198.70 L421.10,197.77 L421.60,197.68 L422.10,197.57 L422.60,196.97 L423.10,197.07 L423.60,197.26 L424.10,196.83 L424.60,196.52 L425.10,196.28 L425.60,195.94 L426.10,195.93 L426.60,195.42 L427.10,195.14 L427.60,195.06 L428.10,195.06 L428.60,194.72 L429.10,194.62 L429.60,193.74 L430.10,194.36 L430.60,194.44 L431.10,193.98 L431.60,193.32 L432.10,192.93 L432.60,192.92 L433.10,192.32 L433.60,192.40 L434.10,191.76 L434.60,191.84 L435.10,191.65 L435.60,190.52 L436.10,190.85 L436.60,190.38 L437.10,189.97 L437.60,189.98 L438.10,189.88 L438.60,189.99 L439.10,189.18 L439.60,189.63 L440.10,189.66 L440.60,189.09 L441.10,188.86 L441.60,188.51 L442.10,188.04 L442.60,188.27 L443.10,188.04 L443.60,187.97 L444.10,188.30 L444.60,187.71 L445.10,187.50 L445.60,187.69 L446.10,186.83 L446.60,186.77 L447.10,186.82 L447.60,186.57 L448.10,186.72 L448.60,186.26 L449.10,186.54 L449.60,186.23 L450.10,185.78 L450.60,185.20 L451.10,185.17 L451.60,184.97 L452.10,184.22 L452.60,184.33 L453.10,184.19 L453.60,183.84 L454.10,183.97 L454.60,183.69 L455.10,183.00 L455.60,183.06 L456.10,182.63 L456.60,182.79 L457.10,182.24 L457.60,182.48 L458.10,182.14 L458.60,182.03 L459.10,181.52 L459.60,180.93 L460.10,181.49 L460.60,180.77 L461.10,180.92 L461.60,180.46 L462.10,180.34 L462.60,180.44 L463.10,179.92 L463.60,180.03 L464.10,179.19 L464.60,179.67 L465.10,179.27 L465.60,179.20 L466.10,179.13 L466.60,179.10 L467.10,179.34 L467.60,178.37 L468.10,178.75 L468.60,178.44 L469.10,178.79 L469.60,178.28 L470.10,178.37 L470.60,178.01 L471.10,178.15 L471.60,178.07 L472.10,177.58 L472.60,177.55 L473.10,177.03 L473.60,177.31 L474.10,177.30 L474.60,176.81 L475.10,177.06 L475.60,176.10 L476.10,175.98 L476.60,175.91 L477.10,175.96 L477.60,175.90 L478.10,175.67 L478.60,175.48 L479.10,175.47 L479.60,174.97 L480.10,174.60 L480.60,174.43 L481.10,175.09 L481.60,173.81 L482.10,174.21 L482.60,174.46 L483.10,174.09 L483.60,173.65 L484.10,173.72 L484.60,173.82 L485.10,173.77 L485.60,173.12 L486.10,173.40 L486.60,173.15 L487.10,173.24 L487.60,173.18 L488.10,172.61 L488.60,172.19 L489.10,172.49 L489.60,172.69 L490.10,172.31 L490.60,172.08 L491.10,172.50 L491.60,171.52 L492.10,171.92 L492.60,171.46 L493.10,171.51 L493.60,171.43 L494.10,171.64 L494.60,170.89 L495.10,170.84 L495.60,170.40 L496.10,170.76 L496.60,170.35 L497.10,170.42 L497.60,169.91 L498.10,169.96 L498.60,170.18 L499.10,169.79 L499.60,169.89 L500.10,169.79 L500.60,169.47 L501.10,169.10 L501.60,169.68 L502.10,169.42 L502.60,169.57 L503.10,168.75 L503.60,168.80 L504.10,168.67 L504.60,168.94 L505.10,169.39 L505.60,169.24 L506.10,169.05 L506.60,169.02 L507.10,169.12 L507.60,168.79 L508.10,168.91 L508.60,168.78 L509.10,168.15" fill="none" stroke="#48dde8" stroke-width="1.15" stroke-linejoin="round" />
<path d="M282.60,262.33 L283.10,261.42 L283.60,261.31 L284.10,260.50 L284.60,260.27 L285.10,259.80 L285.60,259.52 L286.10,259.44 L286.60,259.12 L287.10,259.28 L287.60,259.12 L288.10,258.60 L288.60,258.11 L289.10,258.30 L289.60,257.29 L290.10,256.97 L290.60,257.33 L291.10,256.99 L291.60,256.78 L292.10,256.21 L292.60,255.72 L293.10,255.70 L293.60,255.77 L294.10,255.24 L294.60,255.07 L295.10,254.70 L295.60,254.54 L296.10,254.84 L296.60,254.53 L297.10,253.91 L297.60,253.72 L298.10,253.65 L298.60,253.75 L299.10,253.13 L299.60,253.21 L300.10,252.55 L300.60,252.61 L301.10,252.85 L301.60,252.76 L302.10,252.02 L302.60,251.88 L303.10,252.01 L303.60,251.47 L304.10,251.17 L304.60,251.16 L305.10,250.79 L305.60,250.75 L306.10,250.39 L306.60,249.76 L307.10,249.61 L307.60,249.38 L308.10,248.80 L308.60,248.66 L309.10,248.93 L309.60,248.07 L310.10,248.52 L310.60,248.15 L311.10,247.84 L311.60,247.80 L312.10,247.53 L312.60,247.46 L313.10,246.78 L313.60,246.54 L314.10,246.23 L314.60,246.42 L315.10,245.86 L315.60,245.04 L316.10,244.85 L316.60,244.42 L317.10,244.25 L317.60,243.97 L318.10,244.16 L318.60,242.79 L319.10,243.19 L319.60,242.72 L320.10,242.14 L320.60,241.98 L321.10,241.59 L321.60,241.42 L322.10,241.39 L322.60,240.47 L323.10,240.91 L323.60,240.18 L324.10,240.36 L324.60,239.77 L325.10,239.67 L325.60,239.16 L326.10,238.95 L326.60,238.36 L327.10,237.77 L327.60,237.79 L328.10,237.46 L328.60,237.47 L329.10,236.13 L329.60,236.28 L330.10,236.32 L330.60,235.45 L331.10,235.50 L331.60,235.87 L332.10,235.49 L332.60,234.72 L333.10,235.10 L333.60,234.83 L334.10,234.53 L334.60,234.19 L335.10,233.91 L335.60,233.39 L336.10,233.22 L336.60,233.26 L337.10,232.82 L337.60,232.98 L338.10,232.16 L338.60,231.36 L339.10,231.61 L339.60,231.47 L340.10,231.22 L340.60,230.85 L341.10,230.32 L341.60,230.60 L342.10,229.74 L342.60,229.76 L343.10,229.18 L343.60,228.62 L344.10,228.93 L344.60,227.59 L345.10,227.66 L345.60,227.64 L346.10,227.09 L346.60,227.04 L347.10,226.49 L347.60,226.08 L348.10,226.42 L348.60,225.52 L349.10,225.25 L349.60,224.71 L350.10,224.48 L350.60,224.51 L351.10,224.14 L351.60,223.61 L352.10,223.04 L352.60,222.97 L353.10,221.97 L353.60,221.92 L354.10,221.53 L354.60,221.00 L355.10,220.90 L355.60,220.38 L356.10,220.04 L356.60,220.42 L357.10,219.86 L357.60,219.65 L358.10,219.08 L358.60,219.06 L359.10,218.80 L359.60,218.77 L360.10,219.04 L360.60,218.46 L361.10,218.70 L361.60,218.76 L362.10,218.03 L362.60,218.66 L363.10,218.99 L363.60,218.97 L364.10,218.36 L364.60,218.35 L365.10,217.83 L365.60,216.78 L366.10,216.60 L366.60,216.01 L367.10,214.99 L367.60,214.01 L368.10,214.06 L368.60,213.15 L369.10,212.72 L369.60,212.62 L370.10,212.28 L370.60,212.53 L371.10,212.34 L371.60,212.34 L372.10,212.08 L372.60,211.61 L373.10,211.66 L373.60,211.77 L374.10,211.26 L374.60,211.86 L375.10,210.81 L375.60,210.47 L376.10,210.59 L376.60,210.18 L377.10,209.67 L377.60,209.30 L378.10,209.12 L378.60,208.90 L379.10,208.55 L379.60,207.95 L380.10,207.79 L380.60,207.56 L381.10,207.20 L381.60,205.90 L382.10,206.09 L382.60,205.76 L383.10,205.53 L383.60,205.26 L384.10,205.08 L384.60,204.65 L385.10,204.12 L385.60,203.81 L386.10,203.91 L386.60,202.98 L387.10,202.89 L387.60,202.91 L388.10,202.31 L388.60,201.44 L389.10,201.75 L389.60,201.29 L390.10,201.07 L390.60,201.11 L391.10,200.72 L391.60,200.27 L392.10,200.29 L392.60,199.92 L393.10,199.57 L393.60,199.36 L394.10,199.09 L394.60,198.69 L395.10,198.41 L395.60,198.31 L396.10,197.86 L396.60,197.60 L397.10,198.07 L397.60,197.52 L398.10,197.38 L398.60,197.17 L399.10,197.03 L399.60,196.82 L400.10,196.62 L400.60,196.20 L401.10,196.42 L401.60,195.81 L402.10,196.04 L402.60,195.13 L403.10,195.21 L403.60,195.57 L404.10,195.11 L404.60,194.79 L405.10,194.88 L405.60,194.31 L406.10,194.36 L406.60,193.56 L407.10,193.75 L407.60,193.44 L408.10,193.50 L408.60,193.33 L409.10,192.63 L409.60,192.94 L410.10,191.94 L410.60,191.07 L411.10,190.42 L411.60,190.84 L412.10,189.96 L412.60,189.45 L413.10,189.26 L413.60,189.17 L414.10,189.91 L414.60,189.70 L415.10,190.30 L415.60,189.88 L416.10,189.28 L416.60,189.84 L417.10,189.15 L417.60,188.70 L418.10,188.57 L418.60,187.49 L419.10,187.16 L419.60,186.19 L420.10,185.34 L420.60,185.02 L421.10,184.19 L421.60,184.16 L422.10,183.72 L422.60,183.23 L423.10,183.15 L423.60,182.94 L424.10,182.53 L424.60,182.62 L425.10,182.17 L425.60,182.22 L426.10,181.66 L426.60,181.77 L427.10,181.70 L427.60,181.26 L428.10,181.23 L428.60,181.06 L429.10,181.25 L429.60,180.74 L430.10,180.89 L430.60,180.99 L431.10,180.49 L431.60,179.77 L432.10,179.94 L432.60,179.89 L433.10,179.26 L433.60,179.29 L434.10,178.83 L434.60,178.45 L435.10,177.98 L435.60,177.61 L436.10,177.40 L436.60,177.25 L437.10,177.16 L437.60,176.96 L438.10,176.66 L438.60,176.66 L439.10,176.73 L439.60,176.26 L440.10,176.51 L440.60,176.61 L441.10,176.86 L441.60,176.95 L442.10,177.06 L442.60,176.97 L443.10,177.39 L443.60,177.31 L444.10,176.77 L444.60,177.01 L445.10,176.44 L445.60,176.79 L446.10,175.87 L446.60,175.44 L447.10,175.12 L447.60,174.65 L448.10,174.30 L448.60,174.40 L449.10,173.83 L449.60,173.80 L450.10,173.71 L450.60,173.00 L451.10,173.51 L451.60,173.09 L452.10,172.97 L452.60,172.36 L453.10,172.63 L453.60,172.36 L454.10,171.94 L454.60,172.48 L455.10,171.91 L455.60,171.56 L456.10,171.51 L456.60,171.56 L457.10,171.47 L457.60,171.15 L458.10,171.15 L458.60,171.07 L459.10,170.25 L459.60,170.30 L460.10,170.05 L460.60,170.17 L461.10,170.39 L461.60,170.07 L462.10,169.57 L462.60,169.68 L463.10,169.93 L463.60,169.45 L464.10,169.45 L464.60,169.44 L465.10,168.77 L465.60,169.27 L466.10,168.98 L466.60,168.84 L467.10,168.23 L467.60,168.07 L468.10,167.89 L468.60,167.89 L469.10,167.66 L469.60,167.46 L470.10,167.67 L470.60,167.36 L471.10,166.69 L471.60,166.53 L472.10,166.95 L472.60,166.27 L473.10,166.52 L473.60,166.41 L474.10,165.70 L474.60,165.60 L475.10,165.52 L475.60,165.11 L476.10,164.89 L476.60,164.85 L477.10,164.97 L477.60,164.47 L478.10,164.37 L478.60,164.12 L479.10,163.73 L479.60,164.28 L480.10,163.17 L480.60,163.47 L481.10,163.65 L481.60,163.03 L482.10,163.41 L482.60,163.44 L483.10,162.78 L483.60,162.90 L484.10,162.41 L484.60,162.65 L485.10,162.36 L485.60,162.20 L486.10,162.27 L486.60,161.84 L487.10,161.85 L487.60,161.47 L488.10,160.80 L488.60,160.98 L489.10,160.84 L489.60,160.20 L490.10,160.76 L490.60,160.31 L491.10,160.29 L491.60,159.87 L492.10,160.02 L492.60,159.99 L493.10,159.77 L493.60,159.78 L494.10,159.12 L494.60,159.90 L495.10,159.16 L495.60,158.77 L496.10,158.92 L496.60,158.80 L497.10,158.97 L497.60,158.40 L498.10,158.48 L498.60,157.93 L499.10,158.46 L499.60,157.78 L500.10,157.87 L500.60,156.85 L501.10,157.01 L501.60,156.34 L502.10,156.51 L502.60,156.35 L503.10,155.59 L503.60,155.53 L504.10,155.37 L504.60,155.14 L505.10,155.20 L505.60,155.02 L506.10,154.79 L506.60,155.07 L507.10,155.09 L507.60,154.56 L508.10,154.69 L508.60,154.78 L509.10,154.68" fill="none" stroke="#3cd23c" stroke-width="1.15" stroke-linejoin="round" />
<path d="M282.60,262.85 L283.10,262.05 L283.60,261.20 L284.10,260.40 L284.60,259.62 L285.10,258.88 L285.60,258.17 L286.10,257.44 L286.60,256.66 L287.10,255.83 L287.60,254.99 L288.10,254.22 L288.60,253.42 L289.10,252.68 L289.60,252.09 L290.10,251.58 L290.60,251.19 L291.10,250.85 L291.60,250.55 L292.10,250.15 L292.60,249.56 L293.10,248.86 L293.60,248.02 L294.10,247.23 L294.60,246.50 L295.10,245.91 L295.60,245.40 L296.10,244.99 L296.60,244.59 L297.10,244.11 L297.60,243.50 L298.10,242.90 L298.60,242.29 L299.10,241.74 L299.60,241.32 L300.10,240.99 L300.60,240.69 L301.10,240.28 L301.60,239.84 L302.10,239.36 L302.60,238.87 L303.10,238.42 L303.60,237.99 L304.10,237.53 L304.60,237.13 L305.10,236.69 L305.60,236.26 L306.10,235.80 L306.60,235.31 L307.10,234.79 L307.60,234.23 L308.10,233.67 L308.60,233.04 L309.10,232.36 L309.60,231.72 L310.10,231.13 L310.60,230.59 L311.10,230.11 L311.60,229.60 L312.10,228.94 L312.60,228.17 L313.10,227.32 L313.60,226.48 L314.10,225.68 L314.60,224.99 L315.10,224.46 L315.60,223.99 L316.10,223.69 L316.60,223.43 L317.10,223.14 L317.60,222.94 L318.10,222.68 L318.60,222.36 L319.10,222.15 L319.60,222.09 L320.10,222.05 L320.60,222.00 L321.10,221.94 L321.60,221.87 L322.10,221.73 L322.60,221.61 L323.10,221.36 L323.60,220.96 L324.10,220.38 L324.60,219.67 L325.10,218.91 L325.60,218.16 L326.10,217.34 L326.60,216.52 L327.10,215.73 L327.60,215.01 L328.10,214.46 L328.60,214.13 L329.10,213.92 L329.60,213.73 L330.10,213.47 L330.60,213.24 L331.10,212.95 L331.60,212.67 L332.10,212.46 L332.60,212.24 L333.10,211.89 L333.60,211.47 L334.10,210.89 L334.60,210.22 L335.10,209.45 L335.60,208.73 L336.10,208.01 L336.60,207.29 L337.10,206.56 L337.60,205.83 L338.10,205.02 L338.60,204.25 L339.10,203.51 L339.60,202.82 L340.10,202.16 L340.60,201.54 L341.10,201.00 L341.60,200.56 L342.10,200.21 L342.60,199.89 L343.10,199.45 L343.60,198.93 L344.10,198.27 L344.60,197.51 L345.10,196.72 L345.60,195.93 L346.10,195.15 L346.60,194.38 L347.10,193.65 L347.60,192.96 L348.10,192.34 L348.60,191.85 L349.10,191.41 L349.60,191.08 L350.10,190.76 L350.60,190.44 L351.10,190.08 L351.60,189.61 L352.10,189.04 L352.60,188.51 L353.10,188.01 L353.60,187.70 L354.10,187.53 L354.60,187.47 L355.10,187.47 L355.60,187.50 L356.10,187.48 L356.60,187.44 L357.10,187.35 L357.60,187.14 L358.10,186.79 L358.60,186.30 L359.10,185.69 L359.60,184.97 L360.10,184.35 L360.60,183.80 L361.10,183.31 L361.60,182.96 L362.10,182.61 L362.60,182.19 L363.10,181.68 L363.60,181.12 L364.10,180.57 L364.60,179.95 L365.10,179.34 L365.60,178.81 L366.10,178.42 L366.60,178.22 L367.10,178.11 L367.60,177.94 L368.10,177.63 L368.60,177.10 L369.10,176.40 L369.60,175.58 L370.10,174.88 L370.60,174.33 L371.10,173.95 L371.60,173.72 L372.10,173.50 L372.60,173.18 L373.10,172.72 L373.60,172.19 L374.10,171.75 L374.60,171.44 L375.10,171.24 L375.60,171.07 L376.10,170.80 L376.60,170.39 L377.10,169.93 L377.60,169.53 L378.10,169.19 L378.60,168.89 L379.10,168.65 L379.60,168.34 L380.10,168.00 L380.60,167.56 L381.10,167.12 L381.60,166.72 L382.10,166.35 L382.60,165.94 L383.10,165.50 L383.60,165.03 L384.10,164.63 L384.60,164.22 L385.10,164.01 L385.60,163.79 L386.10,163.60 L386.60,163.29 L387.10,162.89 L387.60,162.45 L388.10,161.95 L388.60,161.44 L389.10,160.97 L389.60,160.49 L390.10,159.93 L390.60,159.34 L391.10,158.70 L391.60,158.06 L392.10,157.38 L392.60,156.72 L393.10,156.08 L393.60,155.53 L394.10,154.94 L394.60,154.40 L395.10,153.82 L395.60,153.14 L396.10,152.49 L396.60,151.81 L397.10,151.22 L397.60,150.75 L398.10,150.38 L398.60,150.17 L399.10,150.01 L399.60,149.82 L400.10,149.61 L400.60,149.32 L401.10,148.94 L401.60,148.50 L402.10,148.09 L402.60,147.82 L403.10,147.64 L403.60,147.55 L404.10,147.47 L404.60,147.33 L405.10,147.14 L405.60,146.91 L406.10,146.66 L406.60,146.41 L407.10,146.11 L407.60,145.79 L408.10,145.42 L408.60,145.05 L409.10,144.78 L409.60,144.49 L410.10,144.13 L410.60,143.65 L411.10,143.08 L411.60,142.44 L412.10,141.89 L412.60,141.48 L413.10,141.12 L413.60,140.85 L414.10,140.46 L414.60,139.97 L415.10,139.32 L415.60,138.65 L416.10,137.92 L416.60,137.27 L417.10,136.73 L417.60,136.32 L418.10,135.86 L418.60,135.40 L419.10,134.86 L419.60,134.34 L420.10,133.85 L420.60,133.53 L421.10,133.31 L421.60,133.12 L422.10,132.98 L422.60,132.85 L423.10,132.66 L423.60,132.38 L424.10,132.07 L424.60,131.70 L425.10,131.28 L425.60,130.98 L426.10,130.80 L426.60,130.74 L427.10,130.76 L427.60,130.82 L428.10,130.81 L428.60,130.77 L429.10,130.71 L429.60,130.61 L430.10,130.50 L430.60,130.37 L431.10,130.29 L431.60,130.32 L432.10,130.54 L432.60,130.92 L433.10,131.34 L433.60,131.72 L434.10,131.95 L434.60,131.92 L435.10,131.75 L435.60,131.53 L436.10,131.23 L436.60,130.82 L437.10,130.31 L437.60,129.70 L438.10,128.97 L438.60,128.20 L439.10,127.44 L439.60,126.77 L440.10,126.25 L440.60,125.76 L441.10,125.25 L441.60,124.74 L442.10,124.20 L442.60,123.73 L443.10,123.41 L443.60,123.22 L444.10,123.13 L444.60,123.11 L445.10,123.16 L445.60,123.16 L446.10,123.16 L446.60,123.21 L447.10,123.18 L447.60,123.07 L448.10,122.88 L448.60,122.63 L449.10,122.35 L449.60,122.09 L450.10,121.89 L450.60,121.63 L451.10,121.34 L451.60,120.98 L452.10,120.52 L452.60,119.98 L453.10,119.47 L453.60,119.06 L454.10,118.60 L454.60,118.09 L455.10,117.46 L455.60,116.71 L456.10,115.94 L456.60,115.28 L457.10,114.77 L457.60,114.36 L458.10,113.95 L458.60,113.56 L459.10,113.06 L459.60,112.53 L460.10,112.01 L460.60,111.58 L461.10,111.20 L461.60,110.92 L462.10,110.71 L462.60,110.63 L463.10,110.65 L463.60,110.81 L464.10,111.04 L464.60,111.36 L465.10,111.67 L465.60,111.92 L466.10,112.09 L466.60,112.23 L467.10,112.34 L467.60,112.51 L468.10,112.62 L468.60,112.78 L469.10,112.94 L469.60,113.08 L470.10,113.11 L470.60,113.03 L471.10,112.86 L471.60,112.60 L472.10,112.27 L472.60,111.98 L473.10,111.59 L473.60,111.15 L474.10,110.70 L474.60,110.27 L475.10,109.82 L475.60,109.39 L476.10,108.97 L476.60,108.50 L477.10,107.94 L477.60,107.43 L478.10,106.85 L478.60,106.30 L479.10,105.73 L479.60,105.20 L480.10,104.62 L480.60,104.06 L481.10,103.45 L481.60,102.87 L482.10,102.30 L482.60,101.75 L483.10,101.27 L483.60,100.87 L484.10,100.60 L484.60,100.39 L485.10,100.15 L485.60,99.89 L486.10,99.61 L486.60,99.24 L487.10,98.94 L487.60,98.67 L488.10,98.51 L488.60,98.43 L489.10,98.39 L489.60,98.30 L490.10,98.07 L490.60,97.81 L491.10,97.53 L491.60,97.34 L492.10,97.28 L492.60,97.29 L493.10,97.31 L493.60,97.31 L494.10,97.22 L494.60,97.02 L495.10,96.76 L495.60,96.43 L496.10,96.11 L496.60,95.85 L497.10,95.70 L497.60,95.50 L498.10,95.25 L498.60,94.96 L499.10,94.73 L499.60,94.56 L500.10,94.40 L500.60,94.28 L501.10,94.07 L501.60,93.87 L502.10,93.65 L502.60,93.50 L503.10,93.37 L503.60,93.25 L504.10,93.17 L504.60,93.13 L505.10,93.19 L505.60,93.24 L506.10,93.19 L506.60,93.15 L507.10,92.97 L507.60,92.75 L508.10,92.60 L508.60,92.57 L509.10,92.66" fill="none" stroke="#e02020" stroke-width="1.1" stroke-linejoin="round" />
<path d="M282.60,262.11 L283.10,261.17 L283.60,260.23 L284.10,259.31 L284.60,258.37 L285.10,257.39 L285.60,256.40 L286.10,255.34 L286.60,254.29 L287.10,253.22 L287.60,252.25 L288.10,251.39 L288.60,250.67 L289.10,250.12 L289.60,249.59 L290.10,249.01 L290.60,248.27 L291.10,247.39 L291.60,246.41 L292.10,245.40 L292.60,244.42 L293.10,243.46 L293.60,242.59 L294.10,241.79 L294.60,241.08 L295.10,240.34 L295.60,239.54 L296.10,238.63 L296.60,237.53 L297.10,236.32 L297.60,235.18 L298.10,234.25 L298.60,233.53 L299.10,232.94 L299.60,232.51 L300.10,232.07 L300.60,231.59 L301.10,231.10 L301.60,230.56 L302.10,230.06 L302.60,229.55 L303.10,229.09 L303.60,228.65 L304.10,228.19 L304.60,227.70 L305.10,227.25 L305.60,226.74 L306.10,226.05 L306.60,225.31 L307.10,224.53 L307.60,223.74 L308.10,223.09 L308.60,222.59 L309.10,222.19 L309.60,221.74 L310.10,221.19 L310.60,220.54 L311.10,219.78 L311.60,219.04 L312.10,218.39 L312.60,217.89 L313.10,217.43 L313.60,216.93 L314.10,216.37 L314.60,215.77 L315.10,215.14 L315.60,214.55 L316.10,213.97 L316.60,213.33 L317.10,212.57 L317.60,211.48 L318.10,210.21 L318.60,209.02 L319.10,208.01 L319.60,207.30 L320.10,206.80 L320.60,206.31 L321.10,205.84 L321.60,205.26 L322.10,204.60 L322.60,203.82 L323.10,202.94 L323.60,202.02 L324.10,201.12 L324.60,200.21 L325.10,199.39 L325.60,198.64 L326.10,198.07 L326.60,197.62 L327.10,197.20 L327.60,196.76 L328.10,196.24 L328.60,195.75 L329.10,195.23 L329.60,194.73 L330.10,194.16 L330.60,193.34 L331.10,192.17 L331.60,190.89 L332.10,189.76 L332.60,188.92 L333.10,188.62 L333.60,188.52 L334.10,188.54 L334.60,188.40 L335.10,187.97 L335.60,187.19 L336.10,186.20 L336.60,185.10 L337.10,183.97 L337.60,182.85 L338.10,181.89 L338.60,180.96 L339.10,180.25 L339.60,179.67 L340.10,179.31 L340.60,179.17 L341.10,179.01 L341.60,178.91 L342.10,178.71 L342.60,178.47 L343.10,178.18 L343.60,178.03 L344.10,178.04 L344.60,178.24 L345.10,178.48 L345.60,178.51 L346.10,178.19 L346.60,177.56 L347.10,176.68 L347.60,175.69 L348.10,174.72 L348.60,173.73 L349.10,172.69 L349.60,171.69 L350.10,170.74 L350.60,169.92 L351.10,169.31 L351.60,168.93 L352.10,168.74 L352.60,168.73 L353.10,168.85 L353.60,169.07 L354.10,169.26 L354.60,169.44 L355.10,169.55 L355.60,169.51 L356.10,169.44 L356.60,169.22 L357.10,168.85 L357.60,168.36 L358.10,167.75 L358.60,167.00 L359.10,166.14 L359.60,165.26 L360.10,164.44 L360.60,163.61 L361.10,163.00 L361.60,162.47 L362.10,161.88 L362.60,161.27 L363.10,160.61 L363.60,160.00 L364.10,159.40 L364.60,158.80 L365.10,158.25 L365.60,157.70 L366.10,157.18 L366.60,156.71 L367.10,156.32 L367.60,155.99 L368.10,155.76 L368.60,155.52 L369.10,155.24 L369.60,154.87 L370.10,154.48 L370.60,154.08 L371.10,153.72 L371.60,153.35 L372.10,152.99 L372.60,152.59 L373.10,152.24 L373.60,151.87 L374.10,151.56 L374.60,151.27 L375.10,150.96 L375.60,150.58 L376.10,150.19 L376.60,149.70 L377.10,149.15 L377.60,148.59 L378.10,148.07 L378.60,147.61 L379.10,147.21 L379.60,146.79 L380.10,146.44 L380.60,145.92 L381.10,145.42 L381.60,144.89 L382.10,144.45 L382.60,144.02 L383.10,143.72 L383.60,143.47 L384.10,143.16 L384.60,142.75 L385.10,142.30 L385.60,141.77 L386.10,141.28 L386.60,140.80 L387.10,140.35 L387.60,139.92 L388.10,139.47 L388.60,139.06 L389.10,138.64 L389.60,138.18 L390.10,137.69 L390.60,137.18 L391.10,136.69 L391.60,136.21 L392.10,135.82 L392.60,135.44 L393.10,135.11 L393.60,134.84 L394.10,134.66 L394.60,134.56 L395.10,134.50 L395.60,134.43 L396.10,134.27 L396.60,134.01 L397.10,133.63 L397.60,133.17 L398.10,132.63 L398.60,132.11 L399.10,131.66 L399.60,131.27 L400.10,130.89 L400.60,130.53 L401.10,130.27 L401.60,130.14 L402.10,130.25 L402.60,130.45 L403.10,130.63 L403.60,130.75 L404.10,130.78 L404.60,130.68 L405.10,130.58 L405.60,130.49 L406.10,130.38 L406.60,130.24 L407.10,130.11 L407.60,129.99 L408.10,129.80 L408.60,129.50 L409.10,129.10 L409.60,128.69 L410.10,128.24 L410.60,127.84 L411.10,127.49 L411.60,127.16 L412.10,126.86 L412.60,126.53 L413.10,126.20 L413.60,125.82 L414.10,125.42 L414.60,125.00 L415.10,124.62 L415.60,124.20 L416.10,123.74 L416.60,123.30 L417.10,122.92 L417.60,122.63 L418.10,122.31 L418.60,121.97 L419.10,121.58 L419.60,121.07 L420.10,120.47 L420.60,119.85 L421.10,119.23 L421.60,118.62 L422.10,117.95 L422.60,117.36 L423.10,116.78 L423.60,116.31 L424.10,115.96 L424.60,115.67 L425.10,115.48 L425.60,115.28 L426.10,115.16 L426.60,115.06 L427.10,114.95 L427.60,114.80 L428.10,114.62 L428.60,114.35 L429.10,113.96 L429.60,113.57 L430.10,113.22 L430.60,112.97 L431.10,112.80 L431.60,112.55 L432.10,112.25 L432.60,111.84 L433.10,111.36 L433.60,110.93 L434.10,110.56 L434.60,110.26 L435.10,109.97 L435.60,109.67 L436.10,109.33 L436.60,108.95 L437.10,108.53 L437.60,108.03 L438.10,107.57 L438.60,107.15 L439.10,106.76 L439.60,106.42 L440.10,106.10 L440.60,105.83 L441.10,105.59 L441.60,105.39 L442.10,105.28 L442.60,105.22 L443.10,105.19 L443.60,105.12 L444.10,105.00 L444.60,104.74 L445.10,104.39 L445.60,104.01 L446.10,103.67 L446.60,103.28 L447.10,102.90 L447.60,102.57 L448.10,102.25 L448.60,101.89 L449.10,101.57 L449.60,101.18 L450.10,100.80 L450.60,100.37 L451.10,99.95 L451.60,99.52 L452.10,99.03 L452.60,98.53 L453.10,97.98 L453.60,97.44 L454.10,96.98 L454.60,96.64 L455.10,96.36 L455.60,96.07 L456.10,95.79 L456.60,95.44 L457.10,95.09 L457.60,94.74 L458.10,94.38 L458.60,93.91 L459.10,93.31 L459.60,92.54 L460.10,91.54 L460.60,90.39 L461.10,89.19 L461.60,88.01 L462.10,86.88 L462.60,85.77 L463.10,84.78 L463.60,83.97 L464.10,83.32 L464.60,82.94 L465.10,82.77 L465.60,82.66 L466.10,82.51 L466.60,82.33 L467.10,82.18 L467.60,82.07 L468.10,82.04 L468.60,82.08 L469.10,82.17 L469.60,82.19 L470.10,82.14 L470.60,82.07 L471.10,81.99 L471.60,81.87 L472.10,81.65 L472.60,81.43 L473.10,81.26 L473.60,81.10 L474.10,81.02 L474.60,80.88 L475.10,80.75 L475.60,80.58 L476.10,80.41 L476.60,80.33 L477.10,80.26 L477.60,80.17 L478.10,80.14 L478.60,80.14 L479.10,80.22 L479.60,80.23 L480.10,80.16 L480.60,79.86 L481.10,79.40 L481.60,78.83 L482.10,78.29 L482.60,77.81 L483.10,77.48 L483.60,77.20 L484.10,77.02 L484.60,76.90 L485.10,76.89 L485.60,76.91 L486.10,76.99 L486.60,77.01 L487.10,77.01 L487.60,76.93 L488.10,76.77 L488.60,76.60 L489.10,76.28 L489.60,75.78 L490.10,75.10 L490.60,74.25 L491.10,73.25 L491.60,72.05 L492.10,70.87 L492.60,69.81 L493.10,69.02 L493.60,68.57 L494.10,68.38 L494.60,68.25 L495.10,68.15 L495.60,68.00 L496.10,67.90 L496.60,67.75 L497.10,67.55 L497.60,67.27 L498.10,66.97 L498.60,66.70 L499.10,66.45 L499.60,66.28 L500.10,66.18 L500.60,65.98 L501.10,65.66 L501.60,65.18 L502.10,64.55 L502.60,63.84 L503.10,63.12 L503.60,62.47 L504.10,61.96 L504.60,61.61 L505.10,61.40 L505.60,61.32 L506.10,61.35 L506.60,61.42 L507.10,61.44 L507.60,61.48 L508.10,61.45 L508.60,61.39 L509.10,61.30" fill="none" stroke="#151515" stroke-width="1.1" stroke-linejoin="round" />
<path d="M50.30,496.26 L50.80,494.51 L51.30,492.77 L51.80,491.00 L52.30,489.22 L52.80,487.44 L53.30,485.65 L53.80,483.91 L54.30,482.23 L54.80,480.60 L55.30,479.11 L55.80,477.62 L56.30,476.21 L56.80,474.77 L57.30,473.31 L57.80,471.89 L58.30,470.32 L58.80,468.72 L59.30,467.06 L59.80,465.45 L60.30,463.97 L60.80,462.55 L61.30,461.22 L61.80,459.92 L62.30,458.50 L62.80,457.02 L63.30,455.53 L63.80,454.07 L64.30,452.67 L64.80,451.35 L65.30,450.07 L65.80,448.79 L66.30,447.61 L66.80,446.50 L67.30,445.42 L67.80,444.42 L68.30,443.45 L68.80,442.57 L69.30,441.70 L69.80,440.92 L70.30,440.06 L70.80,439.12 L71.30,438.22 L71.80,437.28 L72.30,436.31 L72.80,435.29 L73.30,434.21 L73.80,433.17 L74.30,432.21 L74.80,431.36 L75.30,430.64 L75.80,430.01 L76.30,429.35 L76.80,428.65 L77.30,427.98 L77.80,427.45 L78.30,426.90 L78.80,426.41 L79.30,425.88 L79.80,425.32 L80.30,424.79 L80.80,424.26 L81.30,423.74 L81.80,423.24 L82.30,422.73 L82.80,422.25 L83.30,421.82 L83.80,421.41 L84.30,420.98 L84.80,420.51 L85.30,420.08 L85.80,419.65 L86.30,419.26 L86.80,418.90 L87.30,418.56 L87.80,418.19 L88.30,417.76 L88.80,417.39 L89.30,417.03 L89.80,416.81 L90.30,416.69 L90.80,416.63 L91.30,416.61 L91.80,416.52 L92.30,416.30 L92.80,416.01 L93.30,415.72 L93.80,415.48 L94.30,415.31 L94.80,415.11 L95.30,414.87 L95.80,414.55 L96.30,414.16 L96.80,413.77 L97.30,413.36 L97.80,412.98 L98.30,412.71 L98.80,412.57 L99.30,412.41 L99.80,412.29 L100.30,412.14 L100.80,412.03 L101.30,412.04 L101.80,412.04 L102.30,412.04 L102.80,412.02 L103.30,411.93 L103.80,411.89 L104.30,411.79 L104.80,411.80 L105.30,411.82 L105.80,411.84 L106.30,411.85 L106.80,411.88 L107.30,411.90 L107.80,411.92 L108.30,412.05 L108.80,412.25 L109.30,412.38 L109.80,412.47 L110.30,412.45 L110.80,412.40 L111.30,412.29 L111.80,412.21 L112.30,412.21 L112.80,412.17 L113.30,412.13 L113.80,412.07 L114.30,411.97 L114.80,411.79 L115.30,411.53 L115.80,411.32 L116.30,411.20 L116.80,411.10 L117.30,411.03 L117.80,410.92 L118.30,410.85 L118.80,410.79 L119.30,410.82 L119.80,410.85 L120.30,410.81 L120.80,410.73 L121.30,410.61 L121.80,410.48 L122.30,410.38 L122.80,410.32 L123.30,410.26 L123.80,410.20 L124.30,410.20 L124.80,410.27 L125.30,410.37 L125.80,410.51 L126.30,410.66 L126.80,410.78 L127.30,410.92 L127.80,411.04 L128.30,411.05 L128.80,411.08 L129.30,411.03 L129.80,410.86 L130.30,410.65 L130.80,410.57 L131.30,410.60 L131.80,410.76 L132.30,411.09 L132.80,411.50 L133.30,411.88 L133.80,412.19 L134.30,412.37 L134.80,412.41 L135.30,412.36 L135.80,412.26 L136.30,412.17 L136.80,412.05 L137.30,411.92 L137.80,411.68 L138.30,411.37 L138.80,410.99 L139.30,410.59 L139.80,410.33 L140.30,410.26 L140.80,410.33 L141.30,410.51 L141.80,410.72 L142.30,410.85 L142.80,410.79 L143.30,410.60 L143.80,410.26 L144.30,409.91 L144.80,409.62 L145.30,409.43 L145.80,409.32 L146.30,409.27 L146.80,409.23 L147.30,409.22 L147.80,409.18 L148.30,409.13 L148.80,409.08 L149.30,409.02 L149.80,408.97 L150.30,408.88 L150.80,408.70 L151.30,408.47 L151.80,408.22 L152.30,408.03 L152.80,407.92 L153.30,407.91 L153.80,407.92 L154.30,407.92 L154.80,407.93 L155.30,407.94 L155.80,407.88 L156.30,407.82 L156.80,407.80 L157.30,407.88 L157.80,408.09 L158.30,408.30 L158.80,408.46 L159.30,408.43 L159.80,408.36 L160.30,408.27 L160.80,408.24 L161.30,408.25 L161.80,408.30 L162.30,408.39 L162.80,408.50 L163.30,408.62 L163.80,408.80 L164.30,408.90 L164.80,408.94 L165.30,408.90 L165.80,408.83 L166.30,408.71 L166.80,408.62 L167.30,408.66 L167.80,408.75 L168.30,408.85 L168.80,408.95 L169.30,409.05 L169.80,409.16 L170.30,409.33 L170.80,409.61 L171.30,409.88 L171.80,410.09 L172.30,410.23 L172.80,410.28 L173.30,410.25 L173.80,410.18 L174.30,410.08 L174.80,409.93 L175.30,409.77 L175.80,409.57 L176.30,409.42 L176.80,409.26 L177.30,409.09 L177.80,408.92 L178.30,408.79 L178.80,408.64 L179.30,408.59 L179.80,408.52 L180.30,408.47 L180.80,408.32 L181.30,408.15 L181.80,408.04 L182.30,407.96 L182.80,408.02 L183.30,408.15 L183.80,408.30 L184.30,408.50 L184.80,408.66 L185.30,408.74 L185.80,408.66 L186.30,408.37 L186.80,407.95 L187.30,407.54 L187.80,407.24 L188.30,407.14 L188.80,407.07 L189.30,407.05 L189.80,406.99 L190.30,406.95 L190.80,406.92 L191.30,406.94 L191.80,407.05 L192.30,407.16 L192.80,407.25 L193.30,407.28 L193.80,407.25 L194.30,407.21 L194.80,407.18 L195.30,407.14 L195.80,407.06 L196.30,406.91 L196.80,406.73 L197.30,406.53 L197.80,406.34 L198.30,406.07 L198.80,405.80 L199.30,405.64 L199.80,405.62 L200.30,405.77 L200.80,406.06 L201.30,406.39 L201.80,406.70 L202.30,406.94 L202.80,407.05 L203.30,406.92 L203.80,406.69 L204.30,406.53 L204.80,406.51 L205.30,406.68 L205.80,407.00 L206.30,407.30 L206.80,407.40 L207.30,407.33 L207.80,407.12 L208.30,406.93 L208.80,406.74 L209.30,406.73 L209.80,406.84 L210.30,407.10 L210.80,407.34 L211.30,407.54 L211.80,407.66 L212.30,407.70 L212.80,407.70 L213.30,407.82 L213.80,407.88 L214.30,407.87 L214.80,407.79 L215.30,407.78 L215.80,407.78 L216.30,407.90 L216.80,408.13 L217.30,408.39 L217.80,408.54 L218.30,408.58 L218.80,408.59 L219.30,408.58 L219.80,408.54 L220.30,408.60 L220.80,408.67 L221.30,408.73 L221.80,408.68 L222.30,408.65 L222.80,408.70 L223.30,408.81 L223.80,408.91 L224.30,408.96 L224.80,408.86 L225.30,408.72 L225.80,408.54 L226.30,408.50 L226.80,408.52 L227.30,408.63 L227.80,408.81 L228.30,408.96 L228.80,409.05 L229.30,409.12 L229.80,409.17 L230.30,409.23 L230.80,409.29 L231.30,409.36 L231.80,409.41 L232.30,409.40 L232.80,409.43 L233.30,409.36 L233.80,409.19 L234.30,408.99 L234.80,408.85 L235.30,408.85 L235.80,408.90 L236.30,408.92 L236.80,408.86 L237.30,408.67 L237.80,408.36 L238.30,408.08 L238.80,407.90 L239.30,407.94 L239.80,408.01 L240.30,408.04 L240.80,407.95 L241.30,407.77 L241.80,407.61 L242.30,407.57 L242.80,407.74 L243.30,408.08 L243.80,408.46 L244.30,408.81 L244.80,409.09 L245.30,409.29 L245.80,409.37 L246.30,409.44 L246.80,409.58 L247.30,409.79 L247.80,409.97 L248.30,410.16 L248.80,410.25 L249.30,410.28 L249.80,410.30 L250.30,410.38 L250.80,410.41 L251.30,410.42 L251.80,410.34 L252.30,410.20 L252.80,410.07 L253.30,409.96 L253.80,409.89 L254.30,409.75 L254.80,409.62 L255.30,409.50 L255.80,409.40 L256.30,409.32 L256.80,409.27 L257.30,409.17 L257.80,409.05 L258.30,408.86 L258.80,408.74 L259.30,408.72 L259.80,408.65 L260.30,408.64 L260.80,408.65 L261.30,408.71 L261.80,408.78 L262.30,408.96 L262.80,409.08 L263.30,409.11 L263.80,408.98 L264.30,408.81 L264.80,408.70 L265.30,408.64 L265.80,408.61 L266.30,408.52 L266.80,408.40 L267.30,408.19 L267.80,408.06 L268.30,407.91 L268.80,407.82 L269.30,407.69 L269.80,407.60 L270.30,407.62 L270.80,407.62 L271.30,407.60 L271.80,407.60 L272.30,407.49 L272.80,407.29 L273.30,407.13 L273.80,406.97 L274.30,406.87 L274.80,406.84 L275.30,406.84 L275.80,406.96 L276.30,407.04 L276.80,407.10 L277.30,407.04 L277.80,406.91 L278.30,406.70 L278.80,406.51 L279.30,406.35" fill="none" stroke="#48dde8" stroke-width="1.15" stroke-linejoin="round" />
<path d="M50.30,496.17 L50.80,494.10 L51.30,491.95 L51.80,489.89 L52.30,487.95 L52.80,486.20 L53.30,484.43 L53.80,482.49 L54.30,480.29 L54.80,477.92 L55.30,475.46 L55.80,473.14 L56.30,471.04 L56.80,469.11 L57.30,467.38 L57.80,465.75 L58.30,464.17 L58.80,462.67 L59.30,461.19 L59.80,459.75 L60.30,458.31 L60.80,456.93 L61.30,455.65 L61.80,454.32 L62.30,452.93 L62.80,451.56 L63.30,450.10 L63.80,448.60 L64.30,447.18 L64.80,445.71 L65.30,444.17 L65.80,442.62 L66.30,441.08 L66.80,439.63 L67.30,438.33 L67.80,437.14 L68.30,436.00 L68.80,434.94 L69.30,433.91 L69.80,432.93 L70.30,431.98 L70.80,430.95 L71.30,429.78 L71.80,428.56 L72.30,427.32 L72.80,426.16 L73.30,424.95 L73.80,423.80 L74.30,422.74 L74.80,421.76 L75.30,421.03 L75.80,420.46 L76.30,419.89 L76.80,419.22 L77.30,418.43 L77.80,417.55 L78.30,416.54 L78.80,415.53 L79.30,414.52 L79.80,413.47 L80.30,412.53 L80.80,411.67 L81.30,410.98 L81.80,410.45 L82.30,410.01 L82.80,409.67 L83.30,409.20 L83.80,408.66 L84.30,408.16 L84.80,407.74 L85.30,407.48 L85.80,407.34 L86.30,407.14 L86.80,406.82 L87.30,406.31 L87.80,405.73 L88.30,405.25 L88.80,404.89 L89.30,404.62 L89.80,404.43 L90.30,404.13 L90.80,403.75 L91.30,403.33 L91.80,403.04 L92.30,402.89 L92.80,402.83 L93.30,402.80 L93.80,402.73 L94.30,402.58 L94.80,402.44 L95.30,402.29 L95.80,402.08 L96.30,401.82 L96.80,401.48 L97.30,401.05 L97.80,400.66 L98.30,400.34 L98.80,400.10 L99.30,399.93 L99.80,399.67 L100.30,399.40 L100.80,399.13 L101.30,398.80 L101.80,398.46 L102.30,398.14 L102.80,397.81 L103.30,397.36 L103.80,396.83 L104.30,396.32 L104.80,395.85 L105.30,395.56 L105.80,395.52 L106.30,395.68 L106.80,396.00 L107.30,396.30 L107.80,396.49 L108.30,396.50 L108.80,396.42 L109.30,396.35 L109.80,396.35 L110.30,396.52 L110.80,396.70 L111.30,396.67 L111.80,396.48 L112.30,396.11 L112.80,395.69 L113.30,395.34 L113.80,395.05 L114.30,394.78 L114.80,394.44 L115.30,394.06 L115.80,393.67 L116.30,393.26 L116.80,393.07 L117.30,392.99 L117.80,392.95 L118.30,392.97 L118.80,392.87 L119.30,392.69 L119.80,392.48 L120.30,392.26 L120.80,392.12 L121.30,392.07 L121.80,392.09 L122.30,392.14 L122.80,392.26 L123.30,392.30 L123.80,392.41 L124.30,392.32 L124.80,392.31 L125.30,392.23 L125.80,392.23 L126.30,392.38 L126.80,392.68 L127.30,393.13 L127.80,393.61 L128.30,394.15 L128.80,394.73 L129.30,395.16 L129.80,395.42 L130.30,395.48 L130.80,395.22 L131.30,394.88 L131.80,394.44 L132.30,394.08 L132.80,393.69 L133.30,393.20 L133.80,392.71 L134.30,392.24 L134.80,391.91 L135.30,391.86 L135.80,392.09 L136.30,392.49 L136.80,392.94 L137.30,393.25 L137.80,393.39 L138.30,393.48 L138.80,393.54 L139.30,393.61 L139.80,393.73 L140.30,393.88 L140.80,394.06 L141.30,394.26 L141.80,394.25 L142.30,394.14 L142.80,394.01 L143.30,393.95 L143.80,393.99 L144.30,393.87 L144.80,393.68 L145.30,393.25 L145.80,392.74 L146.30,392.30 L146.80,392.03 L147.30,391.78 L147.80,391.59 L148.30,391.38 L148.80,391.18 L149.30,391.07 L149.80,391.12 L150.30,391.21 L150.80,391.43 L151.30,391.51 L151.80,391.59 L152.30,391.67 L152.80,391.82 L153.30,391.99 L153.80,392.17 L154.30,392.34 L154.80,392.44 L155.30,392.40 L155.80,392.27 L156.30,392.03 L156.80,391.81 L157.30,391.69 L157.80,391.73 L158.30,391.75 L158.80,391.72 L159.30,391.65 L159.80,391.47 L160.30,391.22 L160.80,391.11 L161.30,391.04 L161.80,390.94 L162.30,390.71 L162.80,390.35 L163.30,389.89 L163.80,389.39 L164.30,388.93 L164.80,388.66 L165.30,388.51 L165.80,388.38 L166.30,388.22 L166.80,387.98 L167.30,387.67 L167.80,387.41 L168.30,387.19 L168.80,387.11 L169.30,387.20 L169.80,387.50 L170.30,387.78 L170.80,388.00 L171.30,388.10 L171.80,388.01 L172.30,387.82 L172.80,387.76 L173.30,387.75 L173.80,387.67 L174.30,387.58 L174.80,387.41 L175.30,387.15 L175.80,386.86 L176.30,386.73 L176.80,386.63 L177.30,386.63 L177.80,386.60 L178.30,386.60 L178.80,386.57 L179.30,386.62 L179.80,386.82 L180.30,387.16 L180.80,387.52 L181.30,387.78 L181.80,387.87 L182.30,387.85 L182.80,387.84 L183.30,387.86 L183.80,388.01 L184.30,388.25 L184.80,388.54 L185.30,388.79 L185.80,388.94 L186.30,388.90 L186.80,388.76 L187.30,388.57 L187.80,388.48 L188.30,388.49 L188.80,388.73 L189.30,389.03 L189.80,389.47 L190.30,389.94 L190.80,390.29 L191.30,390.45 L191.80,390.46 L192.30,390.28 L192.80,390.21 L193.30,390.11 L193.80,390.18 L194.30,390.26 L194.80,390.23 L195.30,390.25 L195.80,390.16 L196.30,390.03 L196.80,390.03 L197.30,390.13 L197.80,390.34 L198.30,390.68 L198.80,390.99 L199.30,391.11 L199.80,390.96 L200.30,390.64 L200.80,390.08 L201.30,389.32 L201.80,388.47 L202.30,387.84 L202.80,387.36 L203.30,387.22 L203.80,387.25 L204.30,387.20 L204.80,387.09 L205.30,386.97 L205.80,386.84 L206.30,386.70 L206.80,386.47 L207.30,386.36 L207.80,386.32 L208.30,386.42 L208.80,386.53 L209.30,386.76 L209.80,386.99 L210.30,387.17 L210.80,387.37 L211.30,387.66 L211.80,388.04 L212.30,388.54 L212.80,389.04 L213.30,389.44 L213.80,389.82 L214.30,390.02 L214.80,390.00 L215.30,389.91 L215.80,389.88 L216.30,389.90 L216.80,390.01 L217.30,390.24 L217.80,390.51 L218.30,390.71 L218.80,390.78 L219.30,390.79 L219.80,390.75 L220.30,390.77 L220.80,390.80 L221.30,390.78 L221.80,390.60 L222.30,390.26 L222.80,389.90 L223.30,389.67 L223.80,389.58 L224.30,389.68 L224.80,389.92 L225.30,390.25 L225.80,390.59 L226.30,390.84 L226.80,390.89 L227.30,390.77 L227.80,390.58 L228.30,390.43 L228.80,390.36 L229.30,390.43 L229.80,390.60 L230.30,390.69 L230.80,390.72 L231.30,390.56 L231.80,390.23 L232.30,389.74 L232.80,389.32 L233.30,389.05 L233.80,389.06 L234.30,389.23 L234.80,389.44 L235.30,389.57 L235.80,389.59 L236.30,389.64 L236.80,389.73 L237.30,389.84 L237.80,389.92 L238.30,389.92 L238.80,389.88 L239.30,389.74 L239.80,389.62 L240.30,389.65 L240.80,389.73 L241.30,389.80 L241.80,389.81 L242.30,389.83 L242.80,389.91 L243.30,390.06 L243.80,390.35 L244.30,390.68 L244.80,390.93 L245.30,391.14 L245.80,391.29 L246.30,391.39 L246.80,391.43 L247.30,391.48 L247.80,391.45 L248.30,391.38 L248.80,391.26 L249.30,391.21 L249.80,391.21 L250.30,391.28 L250.80,391.41 L251.30,391.61 L251.80,391.75 L252.30,391.92 L252.80,392.03 L253.30,392.25 L253.80,392.54 L254.30,392.84 L254.80,393.09 L255.30,393.24 L255.80,393.36 L256.30,393.36 L256.80,393.25 L257.30,393.00 L257.80,392.55 L258.30,392.03 L258.80,391.69 L259.30,391.64 L259.80,391.86 L260.30,392.20 L260.80,392.52 L261.30,392.67 L261.80,392.66 L262.30,392.56 L262.80,392.46 L263.30,392.31 L263.80,392.11 L264.30,391.90 L264.80,391.64 L265.30,391.39 L265.80,391.10 L266.30,390.86 L266.80,390.62 L267.30,390.46 L267.80,390.25 L268.30,390.07 L268.80,389.92 L269.30,389.81 L269.80,389.76 L270.30,389.85 L270.80,389.97 L271.30,390.04 L271.80,389.99 L272.30,389.94 L272.80,389.89 L273.30,389.99 L273.80,390.22 L274.30,390.46 L274.80,390.56 L275.30,390.58 L275.80,390.44 L276.30,390.30 L276.80,390.21 L277.30,390.39 L277.80,390.71 L278.30,391.28 L278.80,392.00 L279.30,392.66" fill="none" stroke="#3cd23c" stroke-width="1.15" stroke-linejoin="round" />
<path d="M50.30,497.55 L50.80,494.22 L51.30,489.60 L51.80,488.58 L52.30,486.16 L52.80,481.32 L53.30,478.50 L53.80,471.88 L54.30,470.26 L54.80,466.39 L55.30,459.92 L55.80,456.20 L56.30,453.99 L56.80,452.10 L57.30,450.15 L57.80,447.29 L58.30,445.57 L58.80,443.33 L59.30,441.08 L59.80,438.74 L60.30,435.36 L60.80,431.23 L61.30,428.28 L61.80,424.54 L62.30,423.75 L62.80,419.98 L63.30,420.80 L63.80,417.41 L64.30,416.52 L64.80,413.84 L65.30,412.57 L65.80,410.96 L66.30,408.06 L66.80,404.23 L67.30,400.76 L67.80,399.54 L68.30,397.71 L68.80,396.85 L69.30,396.73 L69.80,394.09 L70.30,391.21 L70.80,392.40 L71.30,389.37 L71.80,388.93 L72.30,390.58 L72.80,388.86 L73.30,386.16 L73.80,384.96 L74.30,384.48 L74.80,381.62 L75.30,383.78 L75.80,382.48 L76.30,384.65 L76.80,380.58 L77.30,381.98 L77.80,378.63 L78.30,379.06 L78.80,374.79 L79.30,375.04 L79.80,372.16 L80.30,370.73 L80.80,370.76 L81.30,370.82 L81.80,370.24 L82.30,371.26 L82.80,370.12 L83.30,365.80 L83.80,367.98 L84.30,365.44 L84.80,366.73 L85.30,367.44 L85.80,364.60 L86.30,364.28 L86.80,365.39 L87.30,364.53 L87.80,366.39 L88.30,364.60 L88.80,364.47 L89.30,365.33 L89.80,361.96 L90.30,362.04 L90.80,360.51 L91.30,361.77 L91.80,362.58 L92.30,362.84 L92.80,360.95 L93.30,359.97 L93.80,359.68 L94.30,358.72 L94.80,359.97 L95.30,360.86 L95.80,355.90 L96.30,355.88 L96.80,360.30 L97.30,357.17 L97.80,360.14 L98.30,358.65 L98.80,361.16 L99.30,361.18 L99.80,360.33 L100.30,361.09 L100.80,359.97 L101.30,360.19 L101.80,360.66 L102.30,358.32 L102.80,354.66 L103.30,352.92 L103.80,352.24 L104.30,351.29 L104.80,351.17 L105.30,350.43 L105.80,351.90 L106.30,350.90 L106.80,350.63 L107.30,349.18 L107.80,348.64 L108.30,345.36 L108.80,348.01 L109.30,346.46 L109.80,346.95 L110.30,347.59 L110.80,348.36 L111.30,347.74 L111.80,346.70 L112.30,345.67 L112.80,343.61 L113.30,345.88 L113.80,345.42 L114.30,345.62 L114.80,349.04 L115.30,344.01 L115.80,346.47 L116.30,347.78 L116.80,347.26 L117.30,347.28 L117.80,343.79 L118.30,343.87 L118.80,345.83 L119.30,345.17 L119.80,348.33 L120.30,347.44 L120.80,348.13 L121.30,348.90 L121.80,348.33 L122.30,348.99 L122.80,347.96 L123.30,348.51 L123.80,347.66 L124.30,348.51 L124.80,346.72 L125.30,346.91 L125.80,349.38 L126.30,349.00 L126.80,347.27 L127.30,347.69 L127.80,346.49 L128.30,350.15 L128.80,345.90 L129.30,349.97 L129.80,347.19 L130.30,348.97 L130.80,348.40 L131.30,348.49 L131.80,350.35 L132.30,350.42 L132.80,349.13 L133.30,348.26 L133.80,351.46 L134.30,350.35 L134.80,348.52 L135.30,347.15 L135.80,346.81 L136.30,345.62 L136.80,346.34 L137.30,343.82 L137.80,344.97 L138.30,343.86 L138.80,346.16 L139.30,346.75 L139.80,344.53 L140.30,345.20 L140.80,346.19 L141.30,344.00 L141.80,343.13 L142.30,345.55 L142.80,345.15 L143.30,344.71 L143.80,347.00 L144.30,345.71 L144.80,343.52 L145.30,346.30 L145.80,346.14 L146.30,348.77 L146.80,346.87 L147.30,346.86 L147.80,347.75 L148.30,347.82 L148.80,346.18 L149.30,348.52 L149.80,348.49 L150.30,351.01 L150.80,352.54 L151.30,348.36 L151.80,348.71 L152.30,349.19 L152.80,349.79 L153.30,350.31 L153.80,351.69 L154.30,353.13 L154.80,349.97 L155.30,349.08 L155.80,347.95 L156.30,350.57 L156.80,350.03 L157.30,345.87 L157.80,345.22 L158.30,346.97 L158.80,347.81 L159.30,347.73 L159.80,346.90 L160.30,347.81 L160.80,347.65 L161.30,346.90 L161.80,350.03 L162.30,347.86 L162.80,346.52 L163.30,347.35 L163.80,346.08 L164.30,348.25 L164.80,349.77 L165.30,347.12 L165.80,349.97 L166.30,350.90 L166.80,348.39 L167.30,345.97 L167.80,345.81 L168.30,345.98 L168.80,344.30 L169.30,343.96 L169.80,344.78 L170.30,344.63 L170.80,345.48 L171.30,343.37 L171.80,347.09 L172.30,346.13 L172.80,345.68 L173.30,343.32 L173.80,345.41 L174.30,341.94 L174.80,343.40 L175.30,341.49 L175.80,338.31 L176.30,338.63 L176.80,341.64 L177.30,341.15 L177.80,340.37 L178.30,341.23 L178.80,341.45 L179.30,340.13 L179.80,340.71 L180.30,340.06 L180.80,340.37 L181.30,341.72 L181.80,340.28 L182.30,342.55 L182.80,342.24 L183.30,343.72 L183.80,345.01 L184.30,346.95 L184.80,347.83 L185.30,349.34 L185.80,349.06 L186.30,349.90 L186.80,347.47 L187.30,347.73 L187.80,348.70 L188.30,347.71 L188.80,348.16 L189.30,346.04 L189.80,348.37 L190.30,345.33 L190.80,346.00 L191.30,345.30 L191.80,346.73 L192.30,345.71 L192.80,345.68 L193.30,345.27 L193.80,347.56 L194.30,346.54 L194.80,348.60 L195.30,349.60 L195.80,345.09 L196.30,346.10 L196.80,347.79 L197.30,348.71 L197.80,347.34 L198.30,347.19 L198.80,347.32 L199.30,347.40 L199.80,348.73 L200.30,347.60 L200.80,345.55 L201.30,346.57 L201.80,347.11 L202.30,345.46 L202.80,345.75 L203.30,345.29 L203.80,345.27 L204.30,347.21 L204.80,346.12 L205.30,345.23 L205.80,345.63 L206.30,346.66 L206.80,349.47 L207.30,347.57 L207.80,349.48 L208.30,348.59 L208.80,345.62 L209.30,348.96 L209.80,347.63 L210.30,346.96 L210.80,347.08 L211.30,350.39 L211.80,346.54 L212.30,348.40 L212.80,351.48 L213.30,351.90 L213.80,349.54 L214.30,351.44 L214.80,350.55 L215.30,350.54 L215.80,351.37 L216.30,349.65 L216.80,349.67 L217.30,351.13 L217.80,346.03 L218.30,346.53 L218.80,346.50 L219.30,344.00 L219.80,344.89 L220.30,344.37 L220.80,346.43 L221.30,345.52 L221.80,346.99 L222.30,346.97 L222.80,345.49 L223.30,344.68 L223.80,345.18 L224.30,344.66 L224.80,342.67 L225.30,344.73 L225.80,342.88 L226.30,342.71 L226.80,339.48 L227.30,342.04 L227.80,343.73 L228.30,342.52 L228.80,340.44 L229.30,342.52 L229.80,342.29 L230.30,342.14 L230.80,340.90 L231.30,340.95 L231.80,339.05 L232.30,339.24 L232.80,337.59 L233.30,337.99 L233.80,338.46 L234.30,336.15 L234.80,337.16 L235.30,334.98 L235.80,335.30 L236.30,335.17 L236.80,336.59 L237.30,333.76 L237.80,335.85 L238.30,332.51 L238.80,334.05 L239.30,335.59 L239.80,335.76 L240.30,334.37 L240.80,334.82 L241.30,338.21 L241.80,336.42 L242.30,339.50 L242.80,338.88 L243.30,340.28 L243.80,343.70 L244.30,343.15 L244.80,342.38 L245.30,339.55 L245.80,341.11 L246.30,340.12 L246.80,339.11 L247.30,340.12 L247.80,335.85 L248.30,338.01 L248.80,337.69 L249.30,336.46 L249.80,339.29 L250.30,335.43 L250.80,336.80 L251.30,336.97 L251.80,334.55 L252.30,336.02 L252.80,336.99 L253.30,339.29 L253.80,339.42 L254.30,338.76 L254.80,338.24 L255.30,335.26 L255.80,338.11 L256.30,337.49 L256.80,340.09 L257.30,341.09 L257.80,343.20 L258.30,342.30 L258.80,343.14 L259.30,341.24 L259.80,342.61 L260.30,340.88 L260.80,343.45 L261.30,341.11 L261.80,342.39 L262.30,341.66 L262.80,341.96 L263.30,342.69 L263.80,340.95 L264.30,341.46 L264.80,339.66 L265.30,342.28 L265.80,339.53 L266.30,341.21 L266.80,342.16 L267.30,336.03 L267.80,337.24 L268.30,337.66 L268.80,338.92 L269.30,336.55 L269.80,337.26 L270.30,335.45 L270.80,336.47 L271.30,333.71 L271.80,335.65 L272.30,330.39 L272.80,331.38 L273.30,335.63 L273.80,333.57 L274.30,332.47 L274.80,336.59 L275.30,335.62 L275.80,336.20 L276.30,334.93 L276.80,336.86 L277.30,337.23 L277.80,335.05 L278.30,338.06 L278.80,337.52 L279.30,339.78" fill="none" stroke="#e02020" stroke-width="1.05" stroke-linejoin="round" />
<path d="M50.30,497.91 L50.80,490.94 L51.30,485.03 L51.80,477.84 L52.30,476.32 L52.80,471.87 L53.30,469.68 L53.80,466.87 L54.30,461.21 L54.80,458.67 L55.30,455.59 L55.80,450.39 L56.30,444.99 L56.80,438.61 L57.30,435.16 L57.80,430.79 L58.30,430.15 L58.80,426.07 L59.30,421.86 L59.80,421.07 L60.30,417.60 L60.80,413.11 L61.30,416.09 L61.80,413.43 L62.30,407.45 L62.80,405.91 L63.30,405.02 L63.80,402.63 L64.30,400.56 L64.80,399.38 L65.30,397.95 L65.80,395.68 L66.30,394.57 L66.80,392.21 L67.30,389.72 L67.80,388.68 L68.30,384.52 L68.80,385.89 L69.30,379.54 L69.80,378.92 L70.30,376.95 L70.80,374.87 L71.30,372.91 L71.80,372.79 L72.30,369.03 L72.80,369.71 L73.30,369.38 L73.80,367.78 L74.30,366.54 L74.80,367.51 L75.30,363.83 L75.80,362.86 L76.30,362.01 L76.80,360.90 L77.30,360.28 L77.80,358.79 L78.30,358.41 L78.80,356.97 L79.30,356.13 L79.80,355.81 L80.30,351.92 L80.80,353.78 L81.30,350.48 L81.80,351.09 L82.30,350.03 L82.80,349.25 L83.30,347.12 L83.80,351.22 L84.30,348.11 L84.80,347.59 L85.30,349.20 L85.80,347.35 L86.30,349.04 L86.80,348.57 L87.30,347.30 L87.80,346.87 L88.30,347.48 L88.80,344.75 L89.30,346.18 L89.80,345.65 L90.30,344.32 L90.80,344.56 L91.30,341.71 L91.80,343.86 L92.30,343.61 L92.80,339.80 L93.30,340.85 L93.80,341.77 L94.30,339.65 L94.80,337.18 L95.30,336.46 L95.80,338.22 L96.30,339.13 L96.80,335.64 L97.30,337.09 L97.80,336.12 L98.30,336.45 L98.80,336.40 L99.30,334.98 L99.80,333.36 L100.30,336.01 L100.80,333.07 L101.30,332.73 L101.80,334.01 L102.30,332.26 L102.80,331.50 L103.30,332.54 L103.80,329.82 L104.30,331.67 L104.80,331.85 L105.30,331.25 L105.80,330.25 L106.30,330.48 L106.80,328.68 L107.30,330.71 L107.80,331.23 L108.30,331.84 L108.80,330.86 L109.30,330.10 L109.80,329.51 L110.30,330.37 L110.80,330.56 L111.30,331.81 L111.80,330.28 L112.30,329.68 L112.80,330.11 L113.30,329.41 L113.80,329.30 L114.30,326.21 L114.80,326.13 L115.30,325.98 L115.80,327.44 L116.30,326.53 L116.80,326.48 L117.30,327.32 L117.80,324.33 L118.30,326.57 L118.80,325.42 L119.30,324.01 L119.80,326.64 L120.30,323.35 L120.80,323.78 L121.30,324.82 L121.80,325.40 L122.30,324.78 L122.80,322.76 L123.30,325.47 L123.80,326.49 L124.30,330.40 L124.80,329.55 L125.30,328.29 L125.80,326.90 L126.30,328.67 L126.80,327.08 L127.30,328.90 L127.80,329.37 L128.30,328.62 L128.80,329.41 L129.30,328.62 L129.80,328.04 L130.30,330.07 L130.80,328.40 L131.30,326.84 L131.80,325.96 L132.30,326.77 L132.80,326.83 L133.30,326.68 L133.80,326.75 L134.30,325.07 L134.80,322.97 L135.30,326.88 L135.80,326.23 L136.30,326.14 L136.80,326.91 L137.30,323.54 L137.80,324.80 L138.30,324.77 L138.80,326.99 L139.30,324.64 L139.80,326.19 L140.30,328.98 L140.80,328.76 L141.30,328.27 L141.80,331.60 L142.30,328.14 L142.80,330.44 L143.30,329.88 L143.80,331.19 L144.30,330.50 L144.80,329.63 L145.30,330.49 L145.80,328.22 L146.30,330.04 L146.80,328.65 L147.30,329.71 L147.80,327.51 L148.30,326.55 L148.80,327.18 L149.30,327.63 L149.80,323.20 L150.30,325.42 L150.80,325.66 L151.30,323.10 L151.80,323.73 L152.30,325.50 L152.80,323.81 L153.30,323.83 L153.80,326.42 L154.30,323.07 L154.80,323.14 L155.30,321.40 L155.80,322.90 L156.30,322.84 L156.80,326.52 L157.30,326.07 L157.80,323.45 L158.30,327.59 L158.80,326.48 L159.30,325.37 L159.80,326.41 L160.30,325.55 L160.80,323.77 L161.30,322.34 L161.80,323.31 L162.30,324.56 L162.80,324.45 L163.30,324.29 L163.80,326.44 L164.30,323.89 L164.80,325.84 L165.30,323.76 L165.80,324.12 L166.30,322.50 L166.80,323.85 L167.30,323.21 L167.80,322.49 L168.30,325.06 L168.80,325.71 L169.30,327.49 L169.80,327.58 L170.30,326.59 L170.80,327.52 L171.30,325.62 L171.80,327.55 L172.30,330.67 L172.80,331.05 L173.30,330.29 L173.80,330.02 L174.30,330.91 L174.80,331.66 L175.30,330.03 L175.80,331.86 L176.30,334.82 L176.80,335.05 L177.30,333.99 L177.80,333.25 L178.30,332.91 L178.80,332.23 L179.30,330.98 L179.80,328.67 L180.30,329.96 L180.80,328.24 L181.30,327.77 L181.80,329.56 L182.30,328.08 L182.80,326.65 L183.30,328.38 L183.80,326.24 L184.30,329.51 L184.80,328.89 L185.30,328.69 L185.80,329.85 L186.30,330.88 L186.80,328.58 L187.30,327.96 L187.80,331.64 L188.30,329.15 L188.80,330.84 L189.30,327.92 L189.80,328.67 L190.30,327.15 L190.80,328.61 L191.30,327.49 L191.80,326.67 L192.30,328.83 L192.80,326.82 L193.30,323.38 L193.80,324.99 L194.30,323.80 L194.80,322.89 L195.30,323.12 L195.80,322.92 L196.30,323.65 L196.80,322.92 L197.30,321.90 L197.80,323.54 L198.30,324.60 L198.80,320.77 L199.30,321.81 L199.80,320.50 L200.30,318.55 L200.80,318.96 L201.30,317.52 L201.80,318.06 L202.30,317.48 L202.80,319.60 L203.30,321.19 L203.80,319.36 L204.30,322.22 L204.80,318.92 L205.30,320.91 L205.80,321.17 L206.30,324.64 L206.80,322.26 L207.30,324.33 L207.80,321.57 L208.30,324.84 L208.80,326.02 L209.30,325.76 L209.80,322.82 L210.30,326.55 L210.80,327.69 L211.30,328.50 L211.80,327.65 L212.30,325.43 L212.80,327.54 L213.30,329.37 L213.80,327.86 L214.30,330.06 L214.80,329.10 L215.30,329.80 L215.80,330.10 L216.30,327.61 L216.80,330.74 L217.30,326.30 L217.80,325.44 L218.30,323.27 L218.80,323.62 L219.30,323.31 L219.80,322.64 L220.30,323.76 L220.80,327.37 L221.30,328.29 L221.80,326.39 L222.30,327.82 L222.80,330.42 L223.30,330.75 L223.80,331.19 L224.30,328.30 L224.80,329.71 L225.30,327.81 L225.80,326.75 L226.30,326.30 L226.80,326.83 L227.30,325.60 L227.80,325.32 L228.30,322.97 L228.80,323.10 L229.30,321.63 L229.80,321.65 L230.30,320.99 L230.80,320.29 L231.30,321.46 L231.80,321.37 L232.30,322.49 L232.80,322.52 L233.30,324.30 L233.80,323.40 L234.30,324.31 L234.80,323.29 L235.30,323.05 L235.80,321.64 L236.30,319.88 L236.80,319.51 L237.30,323.55 L237.80,321.46 L238.30,321.25 L238.80,320.24 L239.30,319.78 L239.80,323.65 L240.30,318.74 L240.80,319.86 L241.30,319.80 L241.80,318.68 L242.30,319.16 L242.80,320.99 L243.30,322.99 L243.80,324.31 L244.30,326.99 L244.80,325.36 L245.30,327.70 L245.80,329.09 L246.30,328.37 L246.80,326.07 L247.30,324.31 L247.80,329.60 L248.30,330.06 L248.80,329.56 L249.30,332.32 L249.80,330.69 L250.30,331.41 L250.80,329.99 L251.30,331.42 L251.80,330.31 L252.30,330.20 L252.80,332.28 L253.30,331.51 L253.80,329.67 L254.30,332.49 L254.80,332.91 L255.30,331.29 L255.80,332.31 L256.30,333.51 L256.80,333.84 L257.30,334.95 L257.80,336.16 L258.30,335.07 L258.80,338.03 L259.30,334.17 L259.80,333.71 L260.30,335.88 L260.80,335.45 L261.30,332.00 L261.80,331.23 L262.30,329.81 L262.80,332.14 L263.30,330.38 L263.80,328.23 L264.30,328.39 L264.80,328.20 L265.30,326.32 L265.80,327.39 L266.30,325.68 L266.80,324.58 L267.30,323.72 L267.80,323.88 L268.30,324.02 L268.80,323.21 L269.30,323.24 L269.80,322.26 L270.30,323.21 L270.80,324.06 L271.30,322.78 L271.80,322.04 L272.30,326.28 L272.80,325.62 L273.30,325.12 L273.80,326.72 L274.30,326.94 L274.80,325.92 L275.30,328.11 L275.80,326.61 L276.30,328.45 L276.80,328.00 L277.30,329.48 L277.80,328.10 L278.30,328.59 L278.80,327.50 L279.30,326.71" fill="none" stroke="#151515" stroke-width="1.05" stroke-linejoin="round" />
<path d="M280.40,495.69 L280.80,482.36 L281.20,470.10 L281.60,458.19 L282.00,446.94 L282.40,438.45 L282.80,431.32 L283.20,425.12 L283.60,421.62 L284.00,417.59 L284.40,414.91 L284.80,411.44 L285.20,411.57 L285.60,409.54 L286.00,409.21 L286.40,410.37 L286.80,408.22 L287.20,409.02 L287.60,409.80 L288.00,410.38 L288.40,408.99 L288.80,411.23 L289.20,410.69 L289.60,408.10 L290.00,406.39 L290.40,405.78 L290.80,407.50 L291.20,406.94 L291.60,405.59 L292.00,406.90 L292.40,408.02 L292.80,408.62 L293.20,407.81 L293.60,409.80 L294.00,406.71 L294.40,407.53 L294.80,406.44 L295.20,406.44 L295.60,405.93 L296.00,406.41 L296.40,406.11 L296.80,406.96 L297.20,406.82 L297.60,405.70 L298.00,408.80 L298.40,405.81 L298.80,407.42 L299.20,409.33 L299.60,406.49 L300.00,408.56 L300.40,408.57 L300.80,407.44 L301.20,405.15 L301.60,408.40 L302.00,406.96 L302.40,406.29 L302.80,408.11 L303.20,405.96 L303.60,407.75 L304.00,406.04 L304.40,407.19 L304.80,405.51 L305.20,406.27 L305.60,405.98 L306.00,406.39 L306.40,407.48 L306.80,407.37 L307.20,407.88 L307.60,409.05 L308.00,407.67 L308.40,405.77 L308.80,407.19 L309.20,407.34 L309.60,408.00 L310.00,407.71 L310.40,407.37 L310.80,405.91 L311.20,406.63 L311.60,404.49 L312.00,407.24 L312.40,406.36 L312.80,406.43 L313.20,405.48 L313.60,405.84 L314.00,405.08 L314.40,406.19 L314.80,404.05 L315.20,406.13 L315.60,405.42 L316.00,406.60 L316.40,404.27 L316.80,403.93 L317.20,404.12 L317.60,403.85 L318.00,403.66 L318.40,402.75 L318.80,402.94 L319.20,403.83 L319.60,404.44 L320.00,403.88 L320.40,404.20 L320.80,405.33 L321.20,406.64 L321.60,405.85 L322.00,406.88 L322.40,407.28 L322.80,407.02 L323.20,405.73 L323.60,405.71 L324.00,404.17 L324.40,405.38 L324.80,406.54 L325.20,404.93 L325.60,407.45 L326.00,407.48 L326.40,405.55 L326.80,406.73 L327.20,404.28 L327.60,404.52 L328.00,405.13 L328.40,405.50 L328.80,405.26 L329.20,404.60 L329.60,407.58 L330.00,405.97 L330.40,406.13 L330.80,406.69 L331.20,406.22 L331.60,405.92 L332.00,405.61 L332.40,404.42 L332.80,407.45 L333.20,404.84 L333.60,403.87 L334.00,404.47 L334.40,403.49 L334.80,406.98 L335.20,405.25 L335.60,406.31 L336.00,406.44 L336.40,405.75 L336.80,406.06 L337.20,405.13 L337.60,406.17 L338.00,406.08 L338.40,407.11 L338.80,406.66 L339.20,408.87 L339.60,408.47 L340.00,407.63 L340.40,406.02 L340.80,408.31 L341.20,408.34 L341.60,407.31 L342.00,405.93 L342.40,407.55 L342.80,408.08 L343.20,405.06 L343.60,407.57 L344.00,405.13 L344.40,407.03 L344.80,408.72 L345.20,406.94 L345.60,407.28 L346.00,406.38 L346.40,406.66 L346.80,408.93 L347.20,407.83 L347.60,406.08 L348.00,405.97 L348.40,406.22 L348.80,408.40 L349.20,406.28 L349.60,407.21 L350.00,405.64 L350.40,404.73 L350.80,407.29 L351.20,405.83 L351.60,405.11 L352.00,405.15 L352.40,405.23 L352.80,405.32 L353.20,404.41 L353.60,407.26 L354.00,406.44 L354.40,407.17 L354.80,405.90 L355.20,406.76 L355.60,406.79 L356.00,408.02 L356.40,407.78 L356.80,407.47 L357.20,406.57 L357.60,406.17 L358.00,406.71 L358.40,406.89 L358.80,406.93 L359.20,406.09 L359.60,408.88 L360.00,407.36 L360.40,404.92 L360.80,405.72 L361.20,405.33 L361.60,406.92 L362.00,407.66 L362.40,405.53 L362.80,407.12 L363.20,406.12 L363.60,407.52 L364.00,407.70 L364.40,406.55 L364.80,406.90 L365.20,406.16 L365.60,405.75 L366.00,404.93 L366.40,406.50 L366.80,406.10 L367.20,405.74 L367.60,406.04 L368.00,405.91 L368.40,404.88 L368.80,405.25 L369.20,406.82 L369.60,405.29 L370.00,406.90 L370.40,404.21 L370.80,403.96 L371.20,405.52 L371.60,406.28 L372.00,404.86 L372.40,406.23 L372.80,406.61 L373.20,406.80 L373.60,405.67 L374.00,405.84 L374.40,404.30 L374.80,406.10 L375.20,406.48 L375.60,407.83 L376.00,405.26 L376.40,405.88 L376.80,405.80 L377.20,407.82 L377.60,404.37 L378.00,405.88 L378.40,409.06 L378.80,407.59 L379.20,405.59 L379.60,406.89 L380.00,407.88 L380.40,407.70 L380.80,407.17 L381.20,406.76 L381.60,408.62 L382.00,407.96 L382.40,408.91 L382.80,408.67 L383.20,407.81 L383.60,409.72 L384.00,407.66 L384.40,408.43 L384.80,407.10 L385.20,407.26 L385.60,407.10 L386.00,406.46 L386.40,407.28 L386.80,408.23 L387.20,408.71 L387.60,408.23 L388.00,406.73 L388.40,408.49 L388.80,407.52 L389.20,409.04 L389.60,405.98 L390.00,408.76 L390.40,406.64 L390.80,408.39 L391.20,406.68 L391.60,408.01 L392.00,406.74 L392.40,405.05 L392.80,405.86 L393.20,406.51 L393.60,406.80 L394.00,404.55 L394.40,405.67 L394.80,406.18 L395.20,406.77 L395.60,407.25 L396.00,406.18 L396.40,405.40 L396.80,407.14 L397.20,406.35 L397.60,407.44 L398.00,405.86 L398.40,406.98 L398.80,405.36 L399.20,406.55 L399.60,406.48 L400.00,407.07 L400.40,405.84 L400.80,406.85 L401.20,406.32 L401.60,407.10 L402.00,407.97 L402.40,410.36 L402.80,407.26 L403.20,407.89 L403.60,407.17 L404.00,408.02 L404.40,407.28 L404.80,407.83 L405.20,407.07 L405.60,409.13 L406.00,408.08 L406.40,405.03 L406.80,407.01 L407.20,406.69 L407.60,404.26 L408.00,405.39 L408.40,405.60 L408.80,405.02 L409.20,405.57 L409.60,403.43 L410.00,405.80 L410.40,405.67 L410.80,405.13 L411.20,404.38 L411.60,404.75 L412.00,404.39 L412.40,406.04 L412.80,405.53 L413.20,407.02 L413.60,404.58 L414.00,406.42 L414.40,404.32 L414.80,404.66 L415.20,403.64 L415.60,405.13 L416.00,404.51 L416.40,405.12 L416.80,405.96 L417.20,404.47 L417.60,405.01 L418.00,405.61 L418.40,404.77 L418.80,404.40 L419.20,405.34 L419.60,405.54 L420.00,405.91 L420.40,406.10 L420.80,404.69 L421.20,405.94 L421.60,406.80 L422.00,405.23 L422.40,406.20 L422.80,405.35 L423.20,406.22 L423.60,407.84 L424.00,406.26 L424.40,405.01 L424.80,406.24 L425.20,405.94 L425.60,406.70 L426.00,404.10 L426.40,404.43 L426.80,405.10 L427.20,403.55 L427.60,406.02 L428.00,402.71 L428.40,403.78 L428.80,403.00 L429.20,403.68 L429.60,404.99 L430.00,404.77 L430.40,405.05 L430.80,404.72 L431.20,402.22 L431.60,404.56 L432.00,402.53 L432.40,403.84 L432.80,403.97 L433.20,403.77 L433.60,404.78 L434.00,403.39 L434.40,405.94 L434.80,404.79 L435.20,405.44 L435.60,405.11 L436.00,405.32 L436.40,404.51 L436.80,406.64 L437.20,403.68 L437.60,405.21 L438.00,404.62 L438.40,404.37 L438.80,404.78 L439.20,403.67 L439.60,405.27 L440.00,405.28 L440.40,404.67 L440.80,405.50 L441.20,403.90 L441.60,403.28 L442.00,404.58 L442.40,404.98 L442.80,407.76 L443.20,404.92 L443.60,406.09 L444.00,405.67 L444.40,406.74 L444.80,404.58 L445.20,405.00 L445.60,404.06 L446.00,403.40 L446.40,403.20 L446.80,403.48 L447.20,405.86 L447.60,404.97 L448.00,404.71 L448.40,405.06 L448.80,404.67 L449.20,405.42 L449.60,405.57 L450.00,406.46 L450.40,406.73 L450.80,404.33 L451.20,406.27 L451.60,407.50 L452.00,405.18 L452.40,406.10 L452.80,406.70 L453.20,407.81 L453.60,407.57 L454.00,406.92 L454.40,407.88 L454.80,408.76 L455.20,408.35 L455.60,409.99 L456.00,408.64 L456.40,407.28 L456.80,407.55 L457.20,408.19 L457.60,407.95 L458.00,408.73 L458.40,408.37 L458.80,409.55 L459.20,408.54 L459.60,409.14 L460.00,406.86 L460.40,407.17 L460.80,408.21 L461.20,407.56 L461.60,407.91 L462.00,407.58 L462.40,406.74 L462.80,409.13 L463.20,408.54 L463.60,405.92 L464.00,407.13 L464.40,408.05 L464.80,408.97 L465.20,408.44 L465.60,407.42 L466.00,409.73 L466.40,408.80 L466.80,410.16 L467.20,409.11 L467.60,409.63 L468.00,409.18 L468.40,409.06 L468.80,407.29 L469.20,408.49 L469.60,407.44 L470.00,405.83 L470.40,406.49 L470.80,406.35 L471.20,407.06 L471.60,407.24 L472.00,405.43 L472.40,407.22 L472.80,406.41 L473.20,405.44 L473.60,407.38 L474.00,405.82 L474.40,405.37 L474.80,407.26 L475.20,407.35 L475.60,405.79 L476.00,407.44 L476.40,407.30 L476.80,405.67 L477.20,408.12 L477.60,406.03 L478.00,406.33 L478.40,403.78 L478.80,406.94 L479.20,405.79 L479.60,406.95 L480.00,404.91 L480.40,407.86 L480.80,408.22 L481.20,408.61 L481.60,403.67 L482.00,407.06 L482.40,406.57 L482.80,403.02 L483.20,405.16 L483.60,405.51 L484.00,406.82 L484.40,404.46 L484.80,405.45 L485.20,405.14 L485.60,405.58 L486.00,404.87 L486.40,406.28 L486.80,406.50 L487.20,404.24 L487.60,406.79 L488.00,405.00 L488.40,405.43 L488.80,406.76 L489.20,405.53 L489.60,405.77 L490.00,405.78 L490.40,405.46 L490.80,404.13 L491.20,403.53 L491.60,404.91 L492.00,404.88 L492.40,404.38 L492.80,403.86 L493.20,404.94 L493.60,404.09 L494.00,402.90 L494.40,404.81 L494.80,405.26 L495.20,405.89 L495.60,404.65 L496.00,405.24 L496.40,406.67 L496.80,406.20 L497.20,406.89 L497.60,408.19 L498.00,407.77 L498.40,409.37 L498.80,407.94 L499.20,409.35 L499.60,408.68 L500.00,410.27 L500.40,407.85 L500.80,407.83 L501.20,409.27 L501.60,407.57 L502.00,407.60 L502.40,408.37 L502.80,408.44 L503.20,406.59 L503.60,408.21 L504.00,407.56 L504.40,407.65 L504.80,407.73 L505.20,407.11 L505.60,408.20 L506.00,407.47 L506.40,406.61 L506.80,406.60 L507.20,407.31 L507.60,406.96 L508.00,407.31 L508.40,405.83 L508.80,406.16 L509.20,407.94 L509.60,406.05" fill="none" stroke="#48dde8" stroke-width="1.2" stroke-linejoin="round"/>
<path d="M280.40,495.71 L280.80,481.12 L281.20,466.51 L281.60,453.58 L282.00,443.08 L282.40,433.73 L282.80,426.29 L283.20,420.34 L283.60,413.06 L284.00,410.14 L284.40,406.48 L284.80,406.78 L285.20,404.50 L285.60,402.72 L286.00,401.43 L286.40,398.17 L286.80,399.24 L287.20,398.26 L287.60,398.86 L288.00,395.28 L288.40,398.07 L288.80,399.33 L289.20,396.20 L289.60,396.79 L290.00,398.63 L290.40,398.54 L290.80,395.23 L291.20,394.04 L291.60,393.56 L292.00,393.39 L292.40,393.08 L292.80,393.37 L293.20,394.98 L293.60,395.08 L294.00,395.81 L294.40,395.50 L294.80,394.80 L295.20,397.34 L295.60,396.83 L296.00,395.95 L296.40,396.64 L296.80,397.49 L297.20,397.35 L297.60,397.08 L298.00,398.17 L298.40,398.58 L298.80,396.73 L299.20,396.94 L299.60,395.48 L300.00,396.58 L300.40,397.40 L300.80,397.88 L301.20,397.02 L301.60,396.73 L302.00,396.05 L302.40,397.18 L302.80,395.59 L303.20,397.10 L303.60,397.01 L304.00,395.85 L304.40,397.47 L304.80,396.83 L305.20,398.06 L305.60,396.63 L306.00,398.05 L306.40,399.42 L306.80,397.76 L307.20,398.57 L307.60,396.82 L308.00,397.01 L308.40,394.84 L308.80,396.88 L309.20,395.47 L309.60,396.91 L310.00,394.12 L310.40,395.62 L310.80,396.89 L311.20,397.28 L311.60,394.80 L312.00,396.42 L312.40,400.29 L312.80,398.02 L313.20,397.05 L313.60,393.06 L314.00,395.17 L314.40,396.57 L314.80,395.89 L315.20,395.75 L315.60,396.06 L316.00,394.77 L316.40,395.62 L316.80,392.17 L317.20,397.82 L317.60,394.45 L318.00,394.34 L318.40,397.36 L318.80,396.54 L319.20,397.37 L319.60,395.57 L320.00,396.88 L320.40,397.36 L320.80,394.87 L321.20,395.83 L321.60,395.48 L322.00,395.02 L322.40,394.16 L322.80,393.13 L323.20,395.16 L323.60,394.83 L324.00,396.01 L324.40,394.65 L324.80,393.96 L325.20,393.26 L325.60,395.39 L326.00,395.02 L326.40,398.10 L326.80,398.40 L327.20,397.35 L327.60,393.92 L328.00,392.89 L328.40,394.01 L328.80,392.84 L329.20,395.45 L329.60,393.59 L330.00,392.80 L330.40,393.33 L330.80,394.94 L331.20,392.23 L331.60,394.32 L332.00,392.31 L332.40,394.03 L332.80,393.76 L333.20,395.16 L333.60,395.29 L334.00,396.73 L334.40,396.13 L334.80,394.47 L335.20,393.48 L335.60,393.93 L336.00,394.25 L336.40,394.28 L336.80,393.33 L337.20,395.60 L337.60,395.27 L338.00,393.69 L338.40,393.37 L338.80,393.70 L339.20,394.07 L339.60,394.17 L340.00,392.21 L340.40,393.86 L340.80,392.11 L341.20,394.69 L341.60,395.54 L342.00,393.41 L342.40,395.11 L342.80,394.27 L343.20,394.42 L343.60,398.05 L344.00,396.83 L344.40,396.45 L344.80,395.37 L345.20,396.49 L345.60,395.62 L346.00,396.27 L346.40,394.38 L346.80,395.13 L347.20,394.28 L347.60,392.66 L348.00,396.25 L348.40,395.00 L348.80,392.76 L349.20,391.90 L349.60,392.93 L350.00,392.95 L350.40,393.53 L350.80,392.64 L351.20,393.85 L351.60,395.26 L352.00,395.93 L352.40,393.01 L352.80,395.51 L353.20,394.15 L353.60,394.01 L354.00,394.68 L354.40,393.86 L354.80,395.41 L355.20,395.15 L355.60,393.80 L356.00,393.37 L356.40,396.57 L356.80,396.81 L357.20,395.28 L357.60,394.92 L358.00,396.68 L358.40,397.38 L358.80,394.92 L359.20,397.91 L359.60,395.24 L360.00,396.58 L360.40,394.29 L360.80,394.83 L361.20,394.00 L361.60,394.46 L362.00,395.81 L362.40,393.55 L362.80,394.67 L363.20,396.13 L363.60,395.26 L364.00,398.86 L364.40,394.70 L364.80,400.08 L365.20,396.22 L365.60,398.26 L366.00,398.91 L366.40,397.39 L366.80,394.61 L367.20,395.75 L367.60,396.07 L368.00,396.68 L368.40,397.21 L368.80,397.42 L369.20,398.02 L369.60,395.19 L370.00,397.80 L370.40,394.47 L370.80,396.99 L371.20,395.54 L371.60,394.55 L372.00,397.91 L372.40,396.59 L372.80,397.69 L373.20,394.30 L373.60,394.80 L374.00,396.11 L374.40,395.48 L374.80,396.52 L375.20,395.77 L375.60,396.34 L376.00,395.34 L376.40,398.51 L376.80,396.56 L377.20,395.42 L377.60,397.85 L378.00,397.63 L378.40,397.30 L378.80,397.23 L379.20,396.39 L379.60,396.76 L380.00,394.00 L380.40,394.70 L380.80,394.88 L381.20,396.63 L381.60,397.65 L382.00,395.67 L382.40,395.36 L382.80,397.10 L383.20,395.18 L383.60,396.47 L384.00,396.18 L384.40,394.09 L384.80,396.25 L385.20,396.29 L385.60,394.61 L386.00,394.86 L386.40,394.60 L386.80,398.01 L387.20,398.93 L387.60,397.17 L388.00,398.19 L388.40,394.36 L388.80,397.93 L389.20,398.72 L389.60,398.34 L390.00,395.11 L390.40,398.06 L390.80,396.77 L391.20,398.63 L391.60,396.83 L392.00,397.93 L392.40,397.39 L392.80,398.92 L393.20,398.21 L393.60,399.80 L394.00,399.39 L394.40,398.67 L394.80,398.07 L395.20,397.67 L395.60,398.08 L396.00,399.16 L396.40,398.38 L396.80,398.60 L397.20,398.09 L397.60,397.89 L398.00,396.87 L398.40,395.01 L398.80,397.83 L399.20,397.36 L399.60,394.87 L400.00,398.14 L400.40,393.78 L400.80,396.39 L401.20,395.36 L401.60,395.40 L402.00,396.71 L402.40,396.63 L402.80,395.74 L403.20,394.72 L403.60,394.79 L404.00,396.82 L404.40,398.74 L404.80,397.91 L405.20,396.63 L405.60,397.09 L406.00,397.43 L406.40,398.70 L406.80,395.26 L407.20,396.94 L407.60,396.23 L408.00,394.73 L408.40,394.30 L408.80,397.20 L409.20,396.03 L409.60,395.35 L410.00,395.92 L410.40,397.38 L410.80,396.56 L411.20,398.75 L411.60,396.57 L412.00,396.20 L412.40,397.20 L412.80,396.21 L413.20,396.93 L413.60,398.98 L414.00,399.33 L414.40,397.63 L414.80,396.85 L415.20,395.19 L415.60,394.79 L416.00,396.47 L416.40,396.32 L416.80,395.46 L417.20,395.83 L417.60,398.70 L418.00,398.41 L418.40,397.52 L418.80,398.05 L419.20,399.57 L419.60,398.48 L420.00,398.34 L420.40,395.75 L420.80,395.40 L421.20,394.72 L421.60,393.84 L422.00,396.43 L422.40,396.64 L422.80,394.71 L423.20,395.92 L423.60,395.63 L424.00,394.57 L424.40,392.42 L424.80,395.80 L425.20,395.50 L425.60,392.69 L426.00,395.87 L426.40,393.37 L426.80,392.34 L427.20,392.99 L427.60,391.32 L428.00,393.60 L428.40,392.18 L428.80,395.98 L429.20,395.14 L429.60,393.26 L430.00,396.06 L430.40,393.16 L430.80,395.76 L431.20,396.26 L431.60,395.78 L432.00,394.20 L432.40,395.60 L432.80,395.36 L433.20,395.51 L433.60,397.14 L434.00,397.23 L434.40,396.94 L434.80,394.02 L435.20,393.88 L435.60,394.94 L436.00,395.62 L436.40,392.60 L436.80,394.70 L437.20,398.07 L437.60,394.41 L438.00,395.24 L438.40,395.35 L438.80,396.76 L439.20,395.81 L439.60,395.22 L440.00,393.39 L440.40,395.88 L440.80,394.92 L441.20,393.83 L441.60,394.56 L442.00,395.48 L442.40,392.54 L442.80,392.58 L443.20,393.40 L443.60,393.69 L444.00,391.06 L444.40,394.31 L444.80,396.77 L445.20,395.11 L445.60,397.03 L446.00,392.05 L446.40,395.82 L446.80,397.86 L447.20,398.10 L447.60,395.31 L448.00,394.96 L448.40,396.43 L448.80,394.31 L449.20,395.33 L449.60,393.43 L450.00,395.75 L450.40,395.63 L450.80,397.64 L451.20,395.95 L451.60,394.49 L452.00,395.22 L452.40,393.58 L452.80,395.18 L453.20,394.70 L453.60,395.44 L454.00,395.94 L454.40,392.10 L454.80,395.17 L455.20,395.84 L455.60,393.51 L456.00,397.76 L456.40,394.60 L456.80,399.06 L457.20,397.12 L457.60,397.78 L458.00,397.10 L458.40,398.24 L458.80,395.63 L459.20,395.85 L459.60,394.37 L460.00,397.58 L460.40,395.89 L460.80,397.78 L461.20,397.47 L461.60,394.88 L462.00,397.52 L462.40,396.88 L462.80,396.81 L463.20,397.03 L463.60,396.36 L464.00,396.31 L464.40,397.54 L464.80,394.73 L465.20,394.37 L465.60,394.91 L466.00,397.18 L466.40,395.22 L466.80,397.97 L467.20,391.38 L467.60,394.42 L468.00,394.78 L468.40,395.80 L468.80,397.28 L469.20,395.47 L469.60,394.51 L470.00,397.06 L470.40,397.98 L470.80,392.65 L471.20,396.67 L471.60,396.15 L472.00,394.42 L472.40,394.56 L472.80,395.29 L473.20,394.76 L473.60,394.06 L474.00,392.78 L474.40,394.63 L474.80,393.35 L475.20,394.39 L475.60,393.74 L476.00,394.91 L476.40,395.81 L476.80,395.33 L477.20,396.10 L477.60,393.57 L478.00,396.09 L478.40,396.00 L478.80,394.84 L479.20,395.57 L479.60,392.15 L480.00,395.95 L480.40,395.38 L480.80,392.99 L481.20,396.66 L481.60,395.24 L482.00,396.45 L482.40,395.72 L482.80,396.69 L483.20,396.08 L483.60,395.62 L484.00,396.50 L484.40,396.91 L484.80,393.01 L485.20,396.12 L485.60,395.50 L486.00,394.95 L486.40,398.28 L486.80,397.96 L487.20,395.48 L487.60,395.31 L488.00,397.84 L488.40,395.82 L488.80,396.12 L489.20,393.72 L489.60,395.97 L490.00,397.52 L490.40,395.29 L490.80,395.67 L491.20,398.00 L491.60,396.78 L492.00,397.62 L492.40,396.71 L492.80,397.61 L493.20,393.88 L493.60,395.15 L494.00,394.20 L494.40,399.40 L494.80,396.71 L495.20,396.24 L495.60,395.18 L496.00,394.75 L496.40,392.32 L496.80,398.66 L497.20,395.54 L497.60,395.65 L498.00,393.79 L498.40,395.73 L498.80,396.42 L499.20,395.96 L499.60,397.06 L500.00,395.31 L500.40,396.77 L500.80,397.52 L501.20,397.04 L501.60,396.83 L502.00,396.10 L502.40,395.08 L502.80,397.03 L503.20,395.80 L503.60,395.25 L504.00,397.39 L504.40,394.38 L504.80,395.61 L505.20,397.00 L505.60,396.97 L506.00,395.06 L506.40,395.33 L506.80,395.81 L507.20,394.95 L507.60,394.08 L508.00,395.84 L508.40,395.67 L508.80,395.99 L509.20,397.44 L509.60,396.68" fill="none" stroke="#3cd23c" stroke-width="1.2" stroke-linejoin="round"/>
<path d="M280.40,495.71 L280.80,470.78 L281.20,446.03 L281.60,423.38 L282.00,409.10 L282.40,394.38 L282.80,386.91 L283.20,376.24 L283.60,373.00 L284.00,367.33 L284.40,367.67 L284.80,365.34 L285.20,359.33 L285.60,360.96 L286.00,352.19 L286.40,353.59 L286.80,347.23 L287.20,345.40 L287.60,347.24 L288.00,351.26 L288.40,343.63 L288.80,351.69 L289.20,346.76 L289.60,346.20 L290.00,348.53 L290.40,354.52 L290.80,358.49 L291.20,357.46 L291.60,351.24 L292.00,347.71 L292.40,348.57 L292.80,346.58 L293.20,345.12 L293.60,348.61 L294.00,354.84 L294.40,350.06 L294.80,344.20 L295.20,350.26 L295.60,342.84 L296.00,344.90 L296.40,347.35 L296.80,346.38 L297.20,345.46 L297.60,346.50 L298.00,347.89 L298.40,347.57 L298.80,350.97 L299.20,337.81 L299.60,343.03 L300.00,343.42 L300.40,346.63 L300.80,345.14 L301.20,346.56 L301.60,340.65 L302.00,343.50 L302.40,345.55 L302.80,343.73 L303.20,343.05 L303.60,344.86 L304.00,348.37 L304.40,339.31 L304.80,348.97 L305.20,345.92 L305.60,343.97 L306.00,348.70 L306.40,347.89 L306.80,351.28 L307.20,346.66 L307.60,351.22 L308.00,346.57 L308.40,349.56 L308.80,350.05 L309.20,347.77 L309.60,348.86 L310.00,345.16 L310.40,348.64 L310.80,344.31 L311.20,343.57 L311.60,344.99 L312.00,345.54 L312.40,343.90 L312.80,348.24 L313.20,346.59 L313.60,348.64 L314.00,343.78 L314.40,344.22 L314.80,346.66 L315.20,344.36 L315.60,346.01 L316.00,347.17 L316.40,348.04 L316.80,348.58 L317.20,346.45 L317.60,342.57 L318.00,345.33 L318.40,342.71 L318.80,345.20 L319.20,340.96 L319.60,346.80 L320.00,344.32 L320.40,342.35 L320.80,339.63 L321.20,343.74 L321.60,341.92 L322.00,344.31 L322.40,342.57 L322.80,343.54 L323.20,347.06 L323.60,349.79 L324.00,343.39 L324.40,346.48 L324.80,348.21 L325.20,346.80 L325.60,345.94 L326.00,352.25 L326.40,344.60 L326.80,347.40 L327.20,345.19 L327.60,346.28 L328.00,341.42 L328.40,349.84 L328.80,347.56 L329.20,346.10 L329.60,353.00 L330.00,348.36 L330.40,347.71 L330.80,347.09 L331.20,351.51 L331.60,348.60 L332.00,347.44 L332.40,344.82 L332.80,345.61 L333.20,348.64 L333.60,347.80 L334.00,343.18 L334.40,346.36 L334.80,349.32 L335.20,355.59 L335.60,347.16 L336.00,343.37 L336.40,350.98 L336.80,347.47 L337.20,345.05 L337.60,349.57 L338.00,347.35 L338.40,345.15 L338.80,344.08 L339.20,347.06 L339.60,347.84 L340.00,343.34 L340.40,350.47 L340.80,345.00 L341.20,351.92 L341.60,349.43 L342.00,348.57 L342.40,349.95 L342.80,347.90 L343.20,349.47 L343.60,353.76 L344.00,348.28 L344.40,351.91 L344.80,347.63 L345.20,349.70 L345.60,351.88 L346.00,346.14 L346.40,349.31 L346.80,342.42 L347.20,344.26 L347.60,345.47 L348.00,348.31 L348.40,347.70 L348.80,343.35 L349.20,345.15 L349.60,346.21 L350.00,342.10 L350.40,347.52 L350.80,350.24 L351.20,350.47 L351.60,346.41 L352.00,347.47 L352.40,346.35 L352.80,347.49 L353.20,348.15 L353.60,350.47 L354.00,348.63 L354.40,345.61 L354.80,349.49 L355.20,349.28 L355.60,345.40 L356.00,346.38 L356.40,346.67 L356.80,343.35 L357.20,348.43 L357.60,350.54 L358.00,354.46 L358.40,350.64 L358.80,349.93 L359.20,350.67 L359.60,352.55 L360.00,352.94 L360.40,348.68 L360.80,351.15 L361.20,352.12 L361.60,345.27 L362.00,353.45 L362.40,349.44 L362.80,352.05 L363.20,349.93 L363.60,349.52 L364.00,349.94 L364.40,350.76 L364.80,352.44 L365.20,349.56 L365.60,347.16 L366.00,348.24 L366.40,347.43 L366.80,351.80 L367.20,347.29 L367.60,353.34 L368.00,349.54 L368.40,348.90 L368.80,352.51 L369.20,348.52 L369.60,349.09 L370.00,352.31 L370.40,352.61 L370.80,349.04 L371.20,358.41 L371.60,354.05 L372.00,350.26 L372.40,353.65 L372.80,356.83 L373.20,355.41 L373.60,357.34 L374.00,361.55 L374.40,358.53 L374.80,361.47 L375.20,358.31 L375.60,355.06 L376.00,360.72 L376.40,354.92 L376.80,358.26 L377.20,357.13 L377.60,352.51 L378.00,351.45 L378.40,351.70 L378.80,351.85 L379.20,353.20 L379.60,348.99 L380.00,352.89 L380.40,349.87 L380.80,346.01 L381.20,346.08 L381.60,348.12 L382.00,346.81 L382.40,348.47 L382.80,350.82 L383.20,350.20 L383.60,352.50 L384.00,348.45 L384.40,348.27 L384.80,347.54 L385.20,346.72 L385.60,350.49 L386.00,351.99 L386.40,351.80 L386.80,352.71 L387.20,357.93 L387.60,350.27 L388.00,352.58 L388.40,352.08 L388.80,350.79 L389.20,355.85 L389.60,351.79 L390.00,354.07 L390.40,347.26 L390.80,353.92 L391.20,354.14 L391.60,345.50 L392.00,347.13 L392.40,346.36 L392.80,347.78 L393.20,342.90 L393.60,347.30 L394.00,347.73 L394.40,344.22 L394.80,339.83 L395.20,343.55 L395.60,344.27 L396.00,347.13 L396.40,343.95 L396.80,342.93 L397.20,347.56 L397.60,347.50 L398.00,349.17 L398.40,348.15 L398.80,351.03 L399.20,350.22 L399.60,344.77 L400.00,349.75 L400.40,351.08 L400.80,349.35 L401.20,352.77 L401.60,347.81 L402.00,350.23 L402.40,345.02 L402.80,347.80 L403.20,346.03 L403.60,344.47 L404.00,343.60 L404.40,347.10 L404.80,347.10 L405.20,343.88 L405.60,342.30 L406.00,342.89 L406.40,346.82 L406.80,341.99 L407.20,347.87 L407.60,340.66 L408.00,345.53 L408.40,346.60 L408.80,348.30 L409.20,344.18 L409.60,343.46 L410.00,341.81 L410.40,347.89 L410.80,345.15 L411.20,344.56 L411.60,344.88 L412.00,346.86 L412.40,346.21 L412.80,349.19 L413.20,341.10 L413.60,348.56 L414.00,345.12 L414.40,346.14 L414.80,345.37 L415.20,345.93 L415.60,347.96 L416.00,346.72 L416.40,342.74 L416.80,346.18 L417.20,346.32 L417.60,347.72 L418.00,347.17 L418.40,347.33 L418.80,350.28 L419.20,345.33 L419.60,353.78 L420.00,347.10 L420.40,345.86 L420.80,350.41 L421.20,351.22 L421.60,351.77 L422.00,352.15 L422.40,349.72 L422.80,348.60 L423.20,349.64 L423.60,349.27 L424.00,348.38 L424.40,354.27 L424.80,355.22 L425.20,350.63 L425.60,350.02 L426.00,349.01 L426.40,345.74 L426.80,347.75 L427.20,347.72 L427.60,348.45 L428.00,345.64 L428.40,343.40 L428.80,350.10 L429.20,353.08 L429.60,344.07 L430.00,349.76 L430.40,352.67 L430.80,348.06 L431.20,347.68 L431.60,351.55 L432.00,351.26 L432.40,350.39 L432.80,356.45 L433.20,356.51 L433.60,354.75 L434.00,353.43 L434.40,353.18 L434.80,356.57 L435.20,353.53 L435.60,357.85 L436.00,356.99 L436.40,351.54 L436.80,354.03 L437.20,355.19 L437.60,352.02 L438.00,347.04 L438.40,347.62 L438.80,346.74 L439.20,347.24 L439.60,346.81 L440.00,345.51 L440.40,348.71 L440.80,350.32 L441.20,345.91 L441.60,344.43 L442.00,350.03 L442.40,349.87 L442.80,351.87 L443.20,349.70 L443.60,352.55 L444.00,349.60 L444.40,354.34 L444.80,355.45 L445.20,348.43 L445.60,343.66 L446.00,348.03 L446.40,347.30 L446.80,348.81 L447.20,348.08 L447.60,349.17 L448.00,355.09 L448.40,347.17 L448.80,348.08 L449.20,350.54 L449.60,345.26 L450.00,352.07 L450.40,348.86 L450.80,347.07 L451.20,348.65 L451.60,351.81 L452.00,352.66 L452.40,353.49 L452.80,351.48 L453.20,348.32 L453.60,351.37 L454.00,349.53 L454.40,355.35 L454.80,344.24 L455.20,353.18 L455.60,350.52 L456.00,349.11 L456.40,347.47 L456.80,346.16 L457.20,345.00 L457.60,343.35 L458.00,352.60 L458.40,350.30 L458.80,349.70 L459.20,349.57 L459.60,344.36 L460.00,348.95 L460.40,350.36 L460.80,353.03 L461.20,347.36 L461.60,350.10 L462.00,348.25 L462.40,348.54 L462.80,345.84 L463.20,348.54 L463.60,347.46 L464.00,342.66 L464.40,350.50 L464.80,353.32 L465.20,346.13 L465.60,351.86 L466.00,346.84 L466.40,348.29 L466.80,354.17 L467.20,350.37 L467.60,353.61 L468.00,350.47 L468.40,351.80 L468.80,348.64 L469.20,352.66 L469.60,353.54 L470.00,350.55 L470.40,347.21 L470.80,347.27 L471.20,345.39 L471.60,348.61 L472.00,347.70 L472.40,344.16 L472.80,347.78 L473.20,343.42 L473.60,349.16 L474.00,346.51 L474.40,348.48 L474.80,343.26 L475.20,342.90 L475.60,341.11 L476.00,347.15 L476.40,343.03 L476.80,349.18 L477.20,346.01 L477.60,347.10 L478.00,341.73 L478.40,343.19 L478.80,344.91 L479.20,346.24 L479.60,341.37 L480.00,346.02 L480.40,343.69 L480.80,348.45 L481.20,346.40 L481.60,346.47 L482.00,348.63 L482.40,350.23 L482.80,346.28 L483.20,349.10 L483.60,342.62 L484.00,344.76 L484.40,340.32 L484.80,342.85 L485.20,339.73 L485.60,342.13 L486.00,344.22 L486.40,341.12 L486.80,340.09 L487.20,344.93 L487.60,347.82 L488.00,348.07 L488.40,345.89 L488.80,350.50 L489.20,348.02 L489.60,350.86 L490.00,346.78 L490.40,350.25 L490.80,352.47 L491.20,348.11 L491.60,349.49 L492.00,352.14 L492.40,352.20 L492.80,351.77 L493.20,350.23 L493.60,345.99 L494.00,348.96 L494.40,344.48 L494.80,346.61 L495.20,339.35 L495.60,347.66 L496.00,347.79 L496.40,343.76 L496.80,340.41 L497.20,342.17 L497.60,345.60 L498.00,345.89 L498.40,343.31 L498.80,349.19 L499.20,348.85 L499.60,349.25 L500.00,347.92 L500.40,349.35 L500.80,347.96 L501.20,350.50 L501.60,348.49 L502.00,352.95 L502.40,350.19 L502.80,350.53 L503.20,350.75 L503.60,350.55 L504.00,346.07 L504.40,352.61 L504.80,349.55 L505.20,347.88 L505.60,346.51 L506.00,346.80 L506.40,346.48 L506.80,347.36 L507.20,344.43 L507.60,346.15 L508.00,345.72 L508.40,343.13 L508.80,350.13 L509.20,344.32 L509.60,345.70" fill="none" stroke="#e81414" stroke-width="1.2" stroke-linejoin="round"/>
<path d="M280.40,495.70 L280.80,461.62 L281.20,430.46 L281.60,411.57 L282.00,397.23 L282.40,379.07 L282.80,366.23 L283.20,359.00 L283.60,352.04 L284.00,348.85 L284.40,347.72 L284.80,336.83 L285.20,335.89 L285.60,332.05 L286.00,333.90 L286.40,329.33 L286.80,324.32 L287.20,326.49 L287.60,325.48 L288.00,326.53 L288.40,327.20 L288.80,323.26 L289.20,321.37 L289.60,334.05 L290.00,328.06 L290.40,322.76 L290.80,326.76 L291.20,328.58 L291.60,320.70 L292.00,323.79 L292.40,326.91 L292.80,326.57 L293.20,329.62 L293.60,322.63 L294.00,325.84 L294.40,323.62 L294.80,324.24 L295.20,322.63 L295.60,320.45 L296.00,320.81 L296.40,316.45 L296.80,327.05 L297.20,320.80 L297.60,321.23 L298.00,322.62 L298.40,323.85 L298.80,323.82 L299.20,321.32 L299.60,318.96 L300.00,322.99 L300.40,321.70 L300.80,322.30 L301.20,323.64 L301.60,324.32 L302.00,327.09 L302.40,323.77 L302.80,320.02 L303.20,326.08 L303.60,327.34 L304.00,321.20 L304.40,327.30 L304.80,326.49 L305.20,324.86 L305.60,326.84 L306.00,327.57 L306.40,328.06 L306.80,329.04 L307.20,325.79 L307.60,325.63 L308.00,331.45 L308.40,322.68 L308.80,324.23 L309.20,323.97 L309.60,326.79 L310.00,327.81 L310.40,321.93 L310.80,328.38 L311.20,322.43 L311.60,332.26 L312.00,324.18 L312.40,328.88 L312.80,325.86 L313.20,328.75 L313.60,325.57 L314.00,328.23 L314.40,328.56 L314.80,329.14 L315.20,330.96 L315.60,328.29 L316.00,328.85 L316.40,326.56 L316.80,329.40 L317.20,328.60 L317.60,331.93 L318.00,331.12 L318.40,327.19 L318.80,329.63 L319.20,331.23 L319.60,326.67 L320.00,323.67 L320.40,332.49 L320.80,327.40 L321.20,327.80 L321.60,332.63 L322.00,324.68 L322.40,327.72 L322.80,322.65 L323.20,329.23 L323.60,329.43 L324.00,326.66 L324.40,326.90 L324.80,328.72 L325.20,328.63 L325.60,333.16 L326.00,328.82 L326.40,329.29 L326.80,329.49 L327.20,326.04 L327.60,328.93 L328.00,326.93 L328.40,330.69 L328.80,325.04 L329.20,327.75 L329.60,331.20 L330.00,324.91 L330.40,326.10 L330.80,332.27 L331.20,326.16 L331.60,329.23 L332.00,329.81 L332.40,326.35 L332.80,324.69 L333.20,332.90 L333.60,327.94 L334.00,330.70 L334.40,327.86 L334.80,330.82 L335.20,326.84 L335.60,326.81 L336.00,327.56 L336.40,328.40 L336.80,328.38 L337.20,328.72 L337.60,330.12 L338.00,327.28 L338.40,330.44 L338.80,326.09 L339.20,328.55 L339.60,329.85 L340.00,330.83 L340.40,321.49 L340.80,331.06 L341.20,322.50 L341.60,330.96 L342.00,327.54 L342.40,328.59 L342.80,325.43 L343.20,329.96 L343.60,328.93 L344.00,325.32 L344.40,324.58 L344.80,327.49 L345.20,327.46 L345.60,326.18 L346.00,323.10 L346.40,324.05 L346.80,326.39 L347.20,326.72 L347.60,327.70 L348.00,325.66 L348.40,324.17 L348.80,327.36 L349.20,328.41 L349.60,326.43 L350.00,329.33 L350.40,326.34 L350.80,329.46 L351.20,327.75 L351.60,334.85 L352.00,332.75 L352.40,330.82 L352.80,327.00 L353.20,327.14 L353.60,332.12 L354.00,330.02 L354.40,331.27 L354.80,326.55 L355.20,326.76 L355.60,330.82 L356.00,330.08 L356.40,327.25 L356.80,328.98 L357.20,332.91 L357.60,329.74 L358.00,332.12 L358.40,334.88 L358.80,331.79 L359.20,331.18 L359.60,329.25 L360.00,333.84 L360.40,326.87 L360.80,327.59 L361.20,330.25 L361.60,326.59 L362.00,332.47 L362.40,328.30 L362.80,330.82 L363.20,328.47 L363.60,328.41 L364.00,329.02 L364.40,324.46 L364.80,326.73 L365.20,328.18 L365.60,334.92 L366.00,331.85 L366.40,331.89 L366.80,327.70 L367.20,332.75 L367.60,333.45 L368.00,331.94 L368.40,336.01 L368.80,325.58 L369.20,325.55 L369.60,327.07 L370.00,324.66 L370.40,326.64 L370.80,327.43 L371.20,325.89 L371.60,326.18 L372.00,327.29 L372.40,328.72 L372.80,325.61 L373.20,325.99 L373.60,331.14 L374.00,327.61 L374.40,326.97 L374.80,329.97 L375.20,328.51 L375.60,329.67 L376.00,329.04 L376.40,329.98 L376.80,329.96 L377.20,324.81 L377.60,322.86 L378.00,328.63 L378.40,322.00 L378.80,319.02 L379.20,317.34 L379.60,322.04 L380.00,320.89 L380.40,318.55 L380.80,321.56 L381.20,321.92 L381.60,327.97 L382.00,326.87 L382.40,326.96 L382.80,324.26 L383.20,327.49 L383.60,329.55 L384.00,328.35 L384.40,330.46 L384.80,327.90 L385.20,329.57 L385.60,329.01 L386.00,326.72 L386.40,331.56 L386.80,329.38 L387.20,330.60 L387.60,326.09 L388.00,326.25 L388.40,328.78 L388.80,327.14 L389.20,330.44 L389.60,329.75 L390.00,331.52 L390.40,329.50 L390.80,324.89 L391.20,329.49 L391.60,324.96 L392.00,324.07 L392.40,325.43 L392.80,324.74 L393.20,326.59 L393.60,330.42 L394.00,323.89 L394.40,326.08 L394.80,321.56 L395.20,322.64 L395.60,320.56 L396.00,321.05 L396.40,325.84 L396.80,323.93 L397.20,324.59 L397.60,321.96 L398.00,328.92 L398.40,324.84 L398.80,324.20 L399.20,326.45 L399.60,328.67 L400.00,329.03 L400.40,331.02 L400.80,324.48 L401.20,325.77 L401.60,330.69 L402.00,332.33 L402.40,325.00 L402.80,326.17 L403.20,322.62 L403.60,324.54 L404.00,324.63 L404.40,326.97 L404.80,324.30 L405.20,329.73 L405.60,327.35 L406.00,326.60 L406.40,329.30 L406.80,326.30 L407.20,323.53 L407.60,326.81 L408.00,332.32 L408.40,327.67 L408.80,329.37 L409.20,328.51 L409.60,329.50 L410.00,332.13 L410.40,325.31 L410.80,329.19 L411.20,331.19 L411.60,332.39 L412.00,336.37 L412.40,338.12 L412.80,332.95 L413.20,331.52 L413.60,331.17 L414.00,332.23 L414.40,325.17 L414.80,325.93 L415.20,327.14 L415.60,327.35 L416.00,321.97 L416.40,328.05 L416.80,323.55 L417.20,330.15 L417.60,330.97 L418.00,323.49 L418.40,330.72 L418.80,330.06 L419.20,328.14 L419.60,331.82 L420.00,334.49 L420.40,330.74 L420.80,326.65 L421.20,325.69 L421.60,326.28 L422.00,326.69 L422.40,332.18 L422.80,330.18 L423.20,329.48 L423.60,331.71 L424.00,329.53 L424.40,329.44 L424.80,327.46 L425.20,328.03 L425.60,329.65 L426.00,326.30 L426.40,333.19 L426.80,329.08 L427.20,327.19 L427.60,330.71 L428.00,325.65 L428.40,331.12 L428.80,328.81 L429.20,333.66 L429.60,328.30 L430.00,329.39 L430.40,329.20 L430.80,328.84 L431.20,333.17 L431.60,330.24 L432.00,333.77 L432.40,331.39 L432.80,335.49 L433.20,325.87 L433.60,332.88 L434.00,331.44 L434.40,330.99 L434.80,328.89 L435.20,334.49 L435.60,328.82 L436.00,330.71 L436.40,328.71 L436.80,328.39 L437.20,329.36 L437.60,330.78 L438.00,326.14 L438.40,327.60 L438.80,325.01 L439.20,329.38 L439.60,326.04 L440.00,326.37 L440.40,329.70 L440.80,328.23 L441.20,329.43 L441.60,328.11 L442.00,329.72 L442.40,329.26 L442.80,326.51 L443.20,330.04 L443.60,328.93 L444.00,329.31 L444.40,330.50 L444.80,328.61 L445.20,327.35 L445.60,333.17 L446.00,334.77 L446.40,329.29 L446.80,333.01 L447.20,331.39 L447.60,329.07 L448.00,329.18 L448.40,331.25 L448.80,331.40 L449.20,332.29 L449.60,333.18 L450.00,331.36 L450.40,336.83 L450.80,332.23 L451.20,332.47 L451.60,337.16 L452.00,336.42 L452.40,337.89 L452.80,334.12 L453.20,331.76 L453.60,335.74 L454.00,332.02 L454.40,331.45 L454.80,329.01 L455.20,331.36 L455.60,324.07 L456.00,330.70 L456.40,323.99 L456.80,330.57 L457.20,324.16 L457.60,329.62 L458.00,334.29 L458.40,327.56 L458.80,325.63 L459.20,333.30 L459.60,327.52 L460.00,325.63 L460.40,331.12 L460.80,320.29 L461.20,323.23 L461.60,323.35 L462.00,324.77 L462.40,321.08 L462.80,328.54 L463.20,329.32 L463.60,327.18 L464.00,326.80 L464.40,324.27 L464.80,329.78 L465.20,327.12 L465.60,330.55 L466.00,331.75 L466.40,329.41 L466.80,324.19 L467.20,327.41 L467.60,333.48 L468.00,330.98 L468.40,334.09 L468.80,325.30 L469.20,330.57 L469.60,330.21 L470.00,326.14 L470.40,328.02 L470.80,331.15 L471.20,329.34 L471.60,325.26 L472.00,326.69 L472.40,328.00 L472.80,321.66 L473.20,324.69 L473.60,326.67 L474.00,322.70 L474.40,328.41 L474.80,325.66 L475.20,329.60 L475.60,330.12 L476.00,329.46 L476.40,328.89 L476.80,328.96 L477.20,331.47 L477.60,331.96 L478.00,335.18 L478.40,331.96 L478.80,332.79 L479.20,336.24 L479.60,332.91 L480.00,333.37 L480.40,336.16 L480.80,332.53 L481.20,333.17 L481.60,334.35 L482.00,332.25 L482.40,330.15 L482.80,329.75 L483.20,333.13 L483.60,336.80 L484.00,336.82 L484.40,338.44 L484.80,336.65 L485.20,332.65 L485.60,330.59 L486.00,332.51 L486.40,332.75 L486.80,331.04 L487.20,334.82 L487.60,330.10 L488.00,333.57 L488.40,334.02 L488.80,327.63 L489.20,331.06 L489.60,335.68 L490.00,335.16 L490.40,333.85 L490.80,331.22 L491.20,332.84 L491.60,335.33 L492.00,338.63 L492.40,337.00 L492.80,335.64 L493.20,336.43 L493.60,337.66 L494.00,331.27 L494.40,333.15 L494.80,335.51 L495.20,338.44 L495.60,338.39 L496.00,333.80 L496.40,336.10 L496.80,334.50 L497.20,335.45 L497.60,337.13 L498.00,336.12 L498.40,335.69 L498.80,334.28 L499.20,333.20 L499.60,336.87 L500.00,337.89 L500.40,338.95 L500.80,335.24 L501.20,335.46 L501.60,340.40 L502.00,337.90 L502.40,338.51 L502.80,334.31 L503.20,333.12 L503.60,331.25 L504.00,335.61 L504.40,329.35 L504.80,326.64 L505.20,328.25 L505.60,332.47 L506.00,329.07 L506.40,329.36 L506.80,329.27 L507.20,329.27 L507.60,329.39 L508.00,327.01 L508.40,335.18 L508.80,331.24 L509.20,335.07 L509.60,328.24" fill="none" stroke="#151515" stroke-width="1.2" stroke-linejoin="round"/>
</g>
<line x1="50.00" y1="37.20" x2="509.80" y2="37.20" stroke="#111" stroke-width="1.2"/>
<line x1="50.00" y1="267.20" x2="509.80" y2="267.20" stroke="#111" stroke-width="1.2"/>
<line x1="50.00" y1="497.10" x2="509.80" y2="497.10" stroke="#111" stroke-width="1.2"/>
<line x1="50.60" y1="36.60" x2="50.60" y2="497.70" stroke="#111" stroke-width="1.2"/>
<line x1="279.50" y1="36.60" x2="279.50" y2="497.70" stroke="#111" stroke-width="1.2"/>
<line x1="509.20" y1="36.60" x2="509.20" y2="497.70" stroke="#111" stroke-width="1.2"/>
<line x1="96.38" y1="37.20" x2="96.38" y2="40.40" stroke="#111" stroke-width="1.2"/>
<line x1="96.38" y1="267.20" x2="96.38" y2="264.00" stroke="#111" stroke-width="1.2"/>
<line x1="96.38" y1="267.20" x2="96.38" y2="270.40" stroke="#111" stroke-width="1.2"/>
<line x1="96.38" y1="497.10" x2="96.38" y2="493.90" stroke="#111" stroke-width="1.2"/>
<line x1="142.16" y1="37.20" x2="142.16" y2="40.40" stroke="#111" stroke-width="1.2"/>
<line x1="142.16" y1="267.20" x2="142.16" y2="264.00" stroke="#111" stroke-width="1.2"/>
<line x1="142.16" y1="267.20" x2="142.16" y2="270.40" stroke="#111" stroke-width="1.2"/>
<line x1="142.16" y1="497.10" x2="142.16" y2="493.90" stroke="#111" stroke-width="1.2"/>
<line x1="187.94" y1="37.20" x2="187.94" y2="40.40" stroke="#111" stroke-width="1.2"/>
<line x1="187.94" y1="267.20" x2="187.94" y2="264.00" stroke="#111" stroke-width="1.2"/>
<line x1="187.94" y1="267.20" x2="187.94" y2="270.40" stroke="#111" stroke-width="1.2"/>
<line x1="187.94" y1="497.10" x2="187.94" y2="493.90" stroke="#111" stroke-width="1.2"/>
<line x1="233.72" y1="37.20" x2="233.72" y2="40.40" stroke="#111" stroke-width="1.2"/>
<line x1="233.72" y1="267.20" x2="233.72" y2="264.00" stroke="#111" stroke-width="1.2"/>
<line x1="233.72" y1="267.20" x2="233.72" y2="270.40" stroke="#111" stroke-width="1.2"/>
<line x1="233.72" y1="497.10" x2="233.72" y2="493.90" stroke="#111" stroke-width="1.2"/>
<line x1="325.44" y1="37.20" x2="325.44" y2="40.40" stroke="#111" stroke-width="1.2"/>
<line x1="325.44" y1="267.20" x2="325.44" y2="264.00" stroke="#111" stroke-width="1.2"/>
<line x1="325.44" y1="267.20" x2="325.44" y2="270.40" stroke="#111" stroke-width="1.2"/>
<line x1="325.44" y1="497.10" x2="325.44" y2="493.90" stroke="#111" stroke-width="1.2"/>
<line x1="371.38" y1="37.20" x2="371.38" y2="40.40" stroke="#111" stroke-width="1.2"/>
<line x1="371.38" y1="267.20" x2="371.38" y2="264.00" stroke="#111" stroke-width="1.2"/>
<line x1="371.38" y1="267.20" x2="371.38" y2="270.40" stroke="#111" stroke-width="1.2"/>
<line x1="371.38" y1="497.10" x2="371.38" y2="493.90" stroke="#111" stroke-width="1.2"/>
<line x1="417.32" y1="37.20" x2="417.32" y2="40.40" stroke="#111" stroke-width="1.2"/>
<line x1="417.32" y1="267.20" x2="417.32" y2="264.00" stroke="#111" stroke-width="1.2"/>
<line x1="417.32" y1="267.20" x2="417.32" y2="270.40" stroke="#111" stroke-width="1.2"/>
<line x1="417.32" y1="497.10" x2="417.32" y2="493.90" stroke="#111" stroke-width="1.2"/>
<line x1="463.26" y1="37.20" x2="463.26" y2="40.40" stroke="#111" stroke-width="1.2"/>
<line x1="463.26" y1="267.20" x2="463.26" y2="264.00" stroke="#111" stroke-width="1.2"/>
<line x1="463.26" y1="267.20" x2="463.26" y2="270.40" stroke="#111" stroke-width="1.2"/>
<line x1="463.26" y1="497.10" x2="463.26" y2="493.90" stroke="#111" stroke-width="1.2"/>
<line x1="50.60" y1="221.20" x2="53.80" y2="221.20" stroke="#111" stroke-width="1.2"/>
<line x1="279.50" y1="221.20" x2="276.30" y2="221.20" stroke="#111" stroke-width="1.2"/>
<line x1="279.50" y1="221.20" x2="282.70" y2="221.20" stroke="#111" stroke-width="1.2"/>
<line x1="509.20" y1="221.20" x2="506.00" y2="221.20" stroke="#111" stroke-width="1.2"/>
<line x1="50.60" y1="175.20" x2="53.80" y2="175.20" stroke="#111" stroke-width="1.2"/>
<line x1="279.50" y1="175.20" x2="276.30" y2="175.20" stroke="#111" stroke-width="1.2"/>
<line x1="279.50" y1="175.20" x2="282.70" y2="175.20" stroke="#111" stroke-width="1.2"/>
<line x1="509.20" y1="175.20" x2="506.00" y2="175.20" stroke="#111" stroke-width="1.2"/>
<line x1="50.60" y1="129.20" x2="53.80" y2="129.20" stroke="#111" stroke-width="1.2"/>
<line x1="279.50" y1="129.20" x2="276.30" y2="129.20" stroke="#111" stroke-width="1.2"/>
<line x1="279.50" y1="129.20" x2="282.70" y2="129.20" stroke="#111" stroke-width="1.2"/>
<line x1="509.20" y1="129.20" x2="506.00" y2="129.20" stroke="#111" stroke-width="1.2"/>
<line x1="50.60" y1="83.20" x2="53.80" y2="83.20" stroke="#111" stroke-width="1.2"/>
<line x1="279.50" y1="83.20" x2="276.30" y2="83.20" stroke="#111" stroke-width="1.2"/>
<line x1="279.50" y1="83.20" x2="282.70" y2="83.20" stroke="#111" stroke-width="1.2"/>
<line x1="509.20" y1="83.20" x2="506.00" y2="83.20" stroke="#111" stroke-width="1.2"/>
<line x1="50.60" y1="439.62" x2="53.80" y2="439.62" stroke="#111" stroke-width="1.2"/>
<line x1="279.50" y1="439.62" x2="276.30" y2="439.62" stroke="#111" stroke-width="1.2"/>
<line x1="279.50" y1="439.62" x2="282.70" y2="439.62" stroke="#111" stroke-width="1.2"/>
<line x1="509.20" y1="439.62" x2="506.00" y2="439.62" stroke="#111" stroke-width="1.2"/>
<line x1="50.60" y1="382.15" x2="53.80" y2="382.15" stroke="#111" stroke-width="1.2"/>
<line x1="279.50" y1="382.15" x2="276.30" y2="382.15" stroke="#111" stroke-width="1.2"/>
<line x1="279.50" y1="382.15" x2="282.70" y2="382.15" stroke="#111" stroke-width="1.2"/>
<line x1="509.20" y1="382.15" x2="506.00" y2="382.15" stroke="#111" stroke-width="1.2"/>
<line x1="50.60" y1="324.68" x2="53.80" y2="324.68" stroke="#111" stroke-width="1.2"/>
<line x1="279.50" y1="324.68" x2="276.30" y2="324.68" stroke="#111" stroke-width="1.2"/>
<line x1="279.50" y1="324.68" x2="282.70" y2="324.68" stroke="#111" stroke-width="1.2"/>
<line x1="509.20" y1="324.68" x2="506.00" y2="324.68" stroke="#111" stroke-width="1.2"/>
<rect x="80.0" y="47.9" width="103.2" height="85.5" fill="#fff" stroke="#111" stroke-width="1.2"/>
<line x1="85.8" y1="60.5" x2="129.2" y2="60.5" stroke="#1e1e1e" stroke-width="1.2"/>
<line x1="85.8" y1="80.5" x2="129.2" y2="80.5" stroke="#dd4848" stroke-width="1.6"/>
<line x1="85.8" y1="100.5" x2="129.2" y2="100.5" stroke="#5fd35f" stroke-width="1.9"/>
<line x1="85.8" y1="120.5" x2="129.2" y2="120.5" stroke="#5fd8e2" stroke-width="1.9"/>
</svg>
<svg id="t" width="568" height="535" viewBox="0 0 568 535">
<text x="134.7" y="63.8" font-size="11.3">P<tspan font-size="7.8" dx="-0.3" dy="4.4">A</tspan><tspan dx="-0.6" dy="-4.4">=1</tspan></text>
<text x="134.7" y="83.8" font-size="11.3">P<tspan font-size="7.8" dx="-0.3" dy="4.4">A</tspan><tspan dx="-0.6" dy="-4.4">=10</tspan></text>
<text x="134.7" y="103.8" font-size="11.3">P<tspan font-size="7.8" dx="-0.3" dy="4.4">A</tspan><tspan dx="-0.6" dy="-4.4">=100</tspan></text>
<text x="134.7" y="123.8" font-size="11.3">P<tspan font-size="7.8" dx="-0.3" dy="4.4">A</tspan><tspan dx="-0.6" dy="-4.4">=1000</tspan></text>
<text x="45.00" y="30.60" text-anchor="middle" font-size="11.5" >0</text>
<text x="95.38" y="30.60" text-anchor="middle" font-size="11.5" >2e3</text>
<text x="141.16" y="30.60" text-anchor="middle" font-size="11.5" >4e3</text>
<text x="186.94" y="30.60" text-anchor="middle" font-size="11.5" >6e3</text>
<text x="232.72" y="30.60" text-anchor="middle" font-size="11.5" >8e3</text>
<text x="279.90" y="31.80" text-anchor="middle" font-size="11.5" >0</text>
<text x="324.44" y="30.60" text-anchor="middle" font-size="11.5" >2e4</text>
<text x="370.38" y="30.60" text-anchor="middle" font-size="11.5" >4e4</text>
<text x="416.32" y="30.60" text-anchor="middle" font-size="11.5" >6e4</text>
<text x="462.26" y="30.60" text-anchor="middle" font-size="11.5" >8e4</text>
<text x="508.20" y="30.60" text-anchor="middle" font-size="11.5" >1e5</text>
<text x="45.00" y="511.30" text-anchor="middle" font-size="11.5" >0</text>
<text x="95.38" y="511.30" text-anchor="middle" font-size="11.5" >2e5</text>
<text x="141.16" y="511.30" text-anchor="middle" font-size="11.5" >4e5</text>
<text x="186.94" y="511.30" text-anchor="middle" font-size="11.5" >6e5</text>
<text x="232.72" y="511.30" text-anchor="middle" font-size="11.5" >8e5</text>
<text x="279.90" y="511.30" text-anchor="middle" font-size="11.5" >0</text>
<text x="324.44" y="511.30" text-anchor="middle" font-size="11.5" >2e6</text>
<text x="370.38" y="511.30" text-anchor="middle" font-size="11.5" >4e6</text>
<text x="416.32" y="511.30" text-anchor="middle" font-size="11.5" >6e6</text>
<text x="462.26" y="511.30" text-anchor="middle" font-size="11.5" >8e6</text>
<text x="508.20" y="511.30" text-anchor="middle" font-size="11.5" >1e7</text>
<text x="44.40" y="271.30" text-anchor="end" font-size="11.5" >0</text>
<text x="45.60" y="225.30" text-anchor="end" font-size="11.5" >1e3</text>
<text x="45.60" y="179.30" text-anchor="end" font-size="11.5" >2e3</text>
<text x="45.60" y="133.30" text-anchor="end" font-size="11.5" >3e3</text>
<text x="45.60" y="87.30" text-anchor="end" font-size="11.5" >4e3</text>
<text x="45.60" y="41.30" text-anchor="end" font-size="11.5" >5e3</text>
<text x="44.40" y="501.20" text-anchor="end" font-size="11.5" >0</text>
<text x="45.60" y="443.73" text-anchor="end" font-size="11.5" >1e4</text>
<text x="45.60" y="386.25" text-anchor="end" font-size="11.5" >2e4</text>
<text x="45.60" y="328.78" text-anchor="end" font-size="11.5" >3e4</text>
<text x="514.60" y="271.30" text-anchor="start" font-size="11.5" >0</text>
<text x="514.60" y="225.30" text-anchor="start" font-size="11.5" >5e3</text>
<text x="514.60" y="179.30" text-anchor="start" font-size="11.5" >1e4</text>
<text x="514.60" y="133.30" text-anchor="start" font-size="11.5" >1.5e4</text>
<text x="514.60" y="87.30" text-anchor="start" font-size="11.5" >2e4</text>
<text x="514.60" y="41.30" text-anchor="start" font-size="11.5" >2.5e4</text>
<text x="514.60" y="501.20" text-anchor="start" font-size="11.5" >0</text>
<text x="514.60" y="443.73" text-anchor="start" font-size="11.5" >1e4</text>
<text x="514.60" y="386.25" text-anchor="start" font-size="11.5" >2e4</text>
<text x="514.60" y="328.78" text-anchor="start" font-size="11.5" >3e4</text>
<text x="110" y="10.9" font-size="13.6">No. of time steps</text>
<text x="339.2" y="10.9" font-size="13.6">No. of time steps</text>
<text x="110.2" y="530.4" font-size="13.6">No. of time steps</text>
<text x="339.5" y="530.4" font-size="13.6">No. of time steps</text>
<text transform="translate(15.2,223.3) rotate(-90)" font-size="13.8">MSD (nodal spacings<tspan font-size="10.5" dx="-2.6" dy="-6.6">2</tspan><tspan dy="6.6">)</tspan></text>
<text transform="translate(15.2,452.8) rotate(-90)" font-size="13.8">MSD (nodal spacings<tspan font-size="10.5" dx="-2.6" dy="-6.6">2</tspan><tspan dy="6.6">)</tspan></text>
<text transform="translate(563.9,223.1) rotate(-90)" font-size="13.8">MSD (nodal spacings<tspan font-size="10.5" dx="-2.6" dy="-6.6">2</tspan><tspan dy="6.6">)</tspan></text>
<text transform="translate(560.8,452.9) rotate(-90)" font-size="13.8">MSD (nodal spacings<tspan font-size="10.5" dx="-2.6" dy="-6.6">2</tspan><tspan dy="6.6">)</tspan></text>
<text x="55.8" y="56.6" font-size="16.4" font-weight="bold">(a)</text>
<text x="285.6" y="56.4" font-size="16.4" font-weight="bold">(b)</text>
<text x="55.6" y="286.2" font-size="16.4" font-weight="bold">(c)</text>
<text x="285.8" y="286.2" font-size="16.4" font-weight="bold">(d)</text>
</svg>
</div></body></html>
